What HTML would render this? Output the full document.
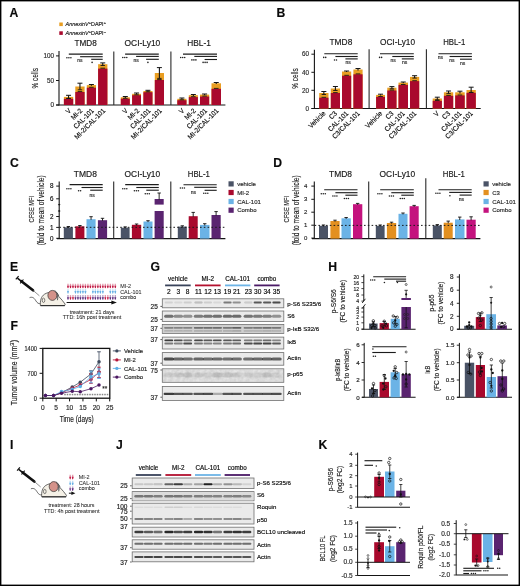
<!DOCTYPE html>
<html><head><meta charset="utf-8"><title>Figure</title>
<style>
html,body{margin:0;padding:0;background:#fff;}
body{width:520px;height:586px;overflow:hidden;}
svg text{stroke:#1a1a1a;stroke-width:0.16px;}
svg{display:block;will-change:transform;font-family:"Liberation Sans", sans-serif;}
</style></head>
<body>
<svg width="520" height="586" viewBox="0 0 520 586">
<rect x="0" y="0" width="520" height="586" fill="#fff"/>
<defs>
<filter id="bl" x="-20%" y="-50%" width="140%" height="200%"><feGaussianBlur stdDeviation="0.75 0.5"/></filter>
<filter id="bl2" x="-20%" y="-50%" width="140%" height="200%"><feGaussianBlur stdDeviation="0.8 0.6"/></filter>
<filter id="noise" x="0" y="0" width="100%" height="100%"><feTurbulence type="fractalNoise" baseFrequency="0.3" numOctaves="2" seed="7"/><feColorMatrix type="matrix" values="0 0 0 0 0.4  0 0 0 0 0.4  0 0 0 0 0.4  0 0 0 0.5 -0.02"/><feComposite in2="SourceGraphic" operator="in"/></filter>
</defs>
<text x="9.6" y="16.9" font-size="12.2" font-weight="bold" fill="#0a0a0a">A</text>
<rect x="59.3" y="22.5" width="3.5" height="3.6" fill="#e99e22"/>
<rect x="59.3" y="31.3" width="3.5" height="3.6" fill="#a9092d"/>
<text x="65.6" y="26.3" font-size="5.4" fill="#2a2a2a" font-style="italic">AnnexinV</text>
<text x="88.72" y="24.3" font-size="3.9" fill="#2a2a2a">+</text>
<text x="90.99" y="26.3" font-size="5.4" fill="#2a2a2a">DAPI</text>
<text x="103.7" y="24.3" font-size="3.9" fill="#2a2a2a">+</text>
<text x="65.6" y="35.1" font-size="5.4" fill="#2a2a2a" font-style="italic">AnnexinV</text>
<text x="88.72" y="33.1" font-size="3.9" fill="#2a2a2a">+</text>
<text x="90.99" y="35.1" font-size="5.4" fill="#2a2a2a">DAPI</text>
<text x="103.7" y="33.1" font-size="3.9" fill="#2a2a2a">–</text>
<text x="74.6" y="46" font-size="8.4" fill="#1a1a1a" textLength="22.2" lengthAdjust="spacingAndGlyphs">TMD8</text>
<text x="124.5" y="46" font-size="8.4" fill="#1a1a1a" textLength="35.8" lengthAdjust="spacingAndGlyphs">OCI-Ly10</text>
<text x="187.3" y="46" font-size="8.4" fill="#1a1a1a" textLength="23.6" lengthAdjust="spacingAndGlyphs">HBL-1</text>
<line x1="59" y1="50.9" x2="59" y2="105.5" stroke="#151515" stroke-width="1.1"/>
<line x1="56" y1="55.9" x2="59" y2="55.9" stroke="#151515" stroke-width="0.99"/>
<text x="53.9" y="58.17" font-size="6.3" text-anchor="end" fill="#333">100</text>
<line x1="56" y1="80.5" x2="59" y2="80.5" stroke="#151515" stroke-width="0.99"/>
<text x="53.9" y="82.77" font-size="6.3" text-anchor="end" fill="#333">50</text>
<line x1="56" y1="105" x2="59" y2="105" stroke="#151515" stroke-width="0.99"/>
<text x="53.9" y="107.27" font-size="6.3" text-anchor="end" fill="#333">0</text>
<line x1="56.2" y1="105" x2="225.4" y2="105" stroke="#151515" stroke-width="1.2"/>
<line x1="113.8" y1="51.5" x2="113.8" y2="105" stroke="#2a2a2a" stroke-width="1.1"/>
<line x1="170.9" y1="51.5" x2="170.9" y2="105" stroke="#2a2a2a" stroke-width="1.1"/>
<text x="38" y="78.2" font-size="9.2" text-anchor="middle" fill="#1e1e1e" textLength="20.5" lengthAdjust="spacingAndGlyphs" transform="rotate(-90 38 78.2)">% cells</text>
<rect x="63.9" y="96.9" width="9.3" height="8.1" fill="#e99e22"/>
<rect x="63.9" y="98.8" width="9.3" height="6.2" fill="#a9092d"/>
<line x1="68.55" y1="95.3" x2="68.55" y2="98.5" stroke="#151515" stroke-width="1.1"/>
<line x1="66.05" y1="95.3" x2="71.05" y2="95.3" stroke="#151515" stroke-width="1"/>
<line x1="66.35" y1="98.5" x2="70.75" y2="98.5" stroke="#151515" stroke-width="0.9"/>
<line x1="66.25" y1="98.4" x2="70.85" y2="98.4" stroke="#151515" stroke-width="0.9"/>
<rect x="75.3" y="86.5" width="9.3" height="18.5" fill="#e99e22"/>
<rect x="75.3" y="92" width="9.3" height="13" fill="#a9092d"/>
<line x1="79.95" y1="83.2" x2="79.95" y2="89.8" stroke="#151515" stroke-width="1.1"/>
<line x1="77.45" y1="83.2" x2="82.45" y2="83.2" stroke="#151515" stroke-width="1"/>
<line x1="77.75" y1="89.8" x2="82.15" y2="89.8" stroke="#151515" stroke-width="0.9"/>
<line x1="77.65" y1="91.6" x2="82.25" y2="91.6" stroke="#151515" stroke-width="0.9"/>
<rect x="86.8" y="85.1" width="9.2" height="19.9" fill="#e99e22"/>
<rect x="86.8" y="87.7" width="9.2" height="17.3" fill="#a9092d"/>
<line x1="91.4" y1="84.5" x2="91.4" y2="85.7" stroke="#151515" stroke-width="1.1"/>
<line x1="88.9" y1="84.5" x2="93.9" y2="84.5" stroke="#151515" stroke-width="1"/>
<line x1="89.1" y1="87.3" x2="93.7" y2="87.3" stroke="#151515" stroke-width="0.9"/>
<rect x="98.1" y="64.2" width="9.3" height="40.8" fill="#e99e22"/>
<rect x="98.1" y="68.6" width="9.3" height="36.4" fill="#a9092d"/>
<line x1="102.75" y1="62.9" x2="102.75" y2="65.5" stroke="#151515" stroke-width="1.1"/>
<line x1="100.25" y1="62.9" x2="105.25" y2="62.9" stroke="#151515" stroke-width="1"/>
<line x1="100.55" y1="65.5" x2="104.95" y2="65.5" stroke="#151515" stroke-width="0.9"/>
<line x1="100.45" y1="68.2" x2="105.05" y2="68.2" stroke="#151515" stroke-width="0.9"/>
<rect x="120.8" y="97.3" width="9" height="7.7" fill="#e99e22"/>
<rect x="120.8" y="98.7" width="9" height="6.3" fill="#a9092d"/>
<line x1="125.3" y1="96.5" x2="125.3" y2="98.1" stroke="#151515" stroke-width="1.1"/>
<line x1="122.8" y1="96.5" x2="127.8" y2="96.5" stroke="#151515" stroke-width="1"/>
<line x1="123" y1="98.3" x2="127.6" y2="98.3" stroke="#151515" stroke-width="0.9"/>
<rect x="132.1" y="93.8" width="8.9" height="11.2" fill="#e99e22"/>
<rect x="132.1" y="95.2" width="8.9" height="9.8" fill="#a9092d"/>
<line x1="136.55" y1="93" x2="136.55" y2="94.6" stroke="#151515" stroke-width="1.1"/>
<line x1="134.05" y1="93" x2="139.05" y2="93" stroke="#151515" stroke-width="1"/>
<line x1="134.25" y1="94.8" x2="138.85" y2="94.8" stroke="#151515" stroke-width="0.9"/>
<rect x="143.4" y="91" width="9.1" height="14" fill="#e99e22"/>
<rect x="143.4" y="92.2" width="9.1" height="12.8" fill="#a9092d"/>
<line x1="147.95" y1="90.3" x2="147.95" y2="91.7" stroke="#151515" stroke-width="1.1"/>
<line x1="145.45" y1="90.3" x2="150.45" y2="90.3" stroke="#151515" stroke-width="1"/>
<line x1="145.65" y1="91.8" x2="150.25" y2="91.8" stroke="#151515" stroke-width="0.9"/>
<rect x="154.8" y="73" width="9.2" height="32" fill="#e99e22"/>
<rect x="154.8" y="80" width="9.2" height="25" fill="#a9092d"/>
<line x1="159.4" y1="67.6" x2="159.4" y2="78.4" stroke="#151515" stroke-width="1.1"/>
<line x1="156.9" y1="67.6" x2="161.9" y2="67.6" stroke="#151515" stroke-width="1"/>
<line x1="157.2" y1="78.4" x2="161.6" y2="78.4" stroke="#151515" stroke-width="0.9"/>
<line x1="157.1" y1="79.6" x2="161.7" y2="79.6" stroke="#151515" stroke-width="0.9"/>
<rect x="177.3" y="98.8" width="9.2" height="6.2" fill="#e99e22"/>
<rect x="177.3" y="100.2" width="9.2" height="4.8" fill="#a9092d"/>
<line x1="181.9" y1="98" x2="181.9" y2="99.6" stroke="#151515" stroke-width="1.1"/>
<line x1="179.4" y1="98" x2="184.4" y2="98" stroke="#151515" stroke-width="1"/>
<line x1="179.6" y1="99.8" x2="184.2" y2="99.8" stroke="#151515" stroke-width="0.9"/>
<rect x="188.8" y="95.2" width="9.1" height="9.8" fill="#e99e22"/>
<rect x="188.8" y="97.1" width="9.1" height="7.9" fill="#a9092d"/>
<line x1="193.35" y1="94.5" x2="193.35" y2="95.9" stroke="#151515" stroke-width="1.1"/>
<line x1="190.85" y1="94.5" x2="195.85" y2="94.5" stroke="#151515" stroke-width="1"/>
<line x1="191.05" y1="96.7" x2="195.65" y2="96.7" stroke="#151515" stroke-width="0.9"/>
<rect x="200" y="94.6" width="9.2" height="10.4" fill="#e99e22"/>
<rect x="200" y="96.5" width="9.2" height="8.5" fill="#a9092d"/>
<line x1="204.6" y1="94" x2="204.6" y2="95.2" stroke="#151515" stroke-width="1.1"/>
<line x1="202.1" y1="94" x2="207.1" y2="94" stroke="#151515" stroke-width="1"/>
<line x1="202.3" y1="96.1" x2="206.9" y2="96.1" stroke="#151515" stroke-width="0.9"/>
<rect x="211.5" y="83.3" width="9.5" height="21.7" fill="#e99e22"/>
<rect x="211.5" y="88.8" width="9.5" height="16.2" fill="#a9092d"/>
<line x1="216.25" y1="82.5" x2="216.25" y2="84.1" stroke="#151515" stroke-width="1.1"/>
<line x1="213.75" y1="82.5" x2="218.75" y2="82.5" stroke="#151515" stroke-width="1"/>
<line x1="213.95" y1="88.4" x2="218.55" y2="88.4" stroke="#151515" stroke-width="0.9"/>
<line x1="68.8" y1="54.1" x2="102.7" y2="54.1" stroke="#1c1c1c" stroke-width="1.12"/>
<line x1="80.1" y1="56.7" x2="102.7" y2="56.7" stroke="#1c1c1c" stroke-width="1.12"/>
<line x1="91.2" y1="59.3" x2="102.7" y2="59.3" stroke="#1c1c1c" stroke-width="1.12"/>
<line x1="125.1" y1="54.1" x2="158.8" y2="54.1" stroke="#1c1c1c" stroke-width="1.12"/>
<line x1="136.1" y1="56.4" x2="158.8" y2="56.4" stroke="#1c1c1c" stroke-width="1.12"/>
<line x1="146.1" y1="59.3" x2="158.8" y2="59.3" stroke="#1c1c1c" stroke-width="1.12"/>
<line x1="183" y1="54.1" x2="217" y2="54.1" stroke="#1c1c1c" stroke-width="1.12"/>
<line x1="194.3" y1="56.4" x2="217" y2="56.4" stroke="#1c1c1c" stroke-width="1.12"/>
<line x1="204.6" y1="59.5" x2="217" y2="59.5" stroke="#1c1c1c" stroke-width="1.12"/>
<circle cx="66.9" cy="57.8" r="0.78" fill="#222" stroke="none" stroke-width="0.6"/>
<circle cx="68.9" cy="57.8" r="0.78" fill="#222" stroke="none" stroke-width="0.6"/>
<circle cx="70.9" cy="57.8" r="0.78" fill="#222" stroke="none" stroke-width="0.6"/>
<text x="77.2" y="62.2" font-size="5" fill="#333">ns</text>
<circle cx="92.1" cy="62.4" r="0.78" fill="#222" stroke="none" stroke-width="0.6"/>
<circle cx="122.8" cy="57.5" r="0.78" fill="#222" stroke="none" stroke-width="0.6"/>
<circle cx="124.8" cy="57.5" r="0.78" fill="#222" stroke="none" stroke-width="0.6"/>
<circle cx="126.8" cy="57.5" r="0.78" fill="#222" stroke="none" stroke-width="0.6"/>
<text x="133.5" y="61.8" font-size="5" fill="#333">ns</text>
<circle cx="147.9" cy="62.4" r="0.78" fill="#222" stroke="none" stroke-width="0.6"/>
<circle cx="180.7" cy="57.5" r="0.78" fill="#222" stroke="none" stroke-width="0.6"/>
<circle cx="182.7" cy="57.5" r="0.78" fill="#222" stroke="none" stroke-width="0.6"/>
<circle cx="184.7" cy="57.5" r="0.78" fill="#222" stroke="none" stroke-width="0.6"/>
<circle cx="191.9" cy="59.9" r="0.78" fill="#222" stroke="none" stroke-width="0.6"/>
<circle cx="193.9" cy="59.9" r="0.78" fill="#222" stroke="none" stroke-width="0.6"/>
<circle cx="195.9" cy="59.9" r="0.78" fill="#222" stroke="none" stroke-width="0.6"/>
<circle cx="203.1" cy="62.4" r="0.78" fill="#222" stroke="none" stroke-width="0.6"/>
<circle cx="205.1" cy="62.4" r="0.78" fill="#222" stroke="none" stroke-width="0.6"/>
<circle cx="207.1" cy="62.4" r="0.78" fill="#222" stroke="none" stroke-width="0.6"/>
<text x="71.5" y="111.2" font-size="7" text-anchor="end" textLength="4.32" lengthAdjust="spacingAndGlyphs" transform="rotate(-45 71.5 111.2)">V</text>
<text x="82.9" y="111.2" font-size="7" text-anchor="end" textLength="12.96" lengthAdjust="spacingAndGlyphs" transform="rotate(-45 82.9 111.2)">MI-2</text>
<text x="94.4" y="111.2" font-size="7" text-anchor="end" textLength="25.57" lengthAdjust="spacingAndGlyphs" transform="rotate(-45 94.4 111.2)">CAL-101</text>
<text x="105.7" y="111.2" font-size="7" text-anchor="end" textLength="40.33" lengthAdjust="spacingAndGlyphs" transform="rotate(-45 105.7 111.2)">MI-2/CAL-101</text>
<text x="128.4" y="111.2" font-size="7" text-anchor="end" textLength="4.32" lengthAdjust="spacingAndGlyphs" transform="rotate(-45 128.4 111.2)">V</text>
<text x="139.7" y="111.2" font-size="7" text-anchor="end" textLength="12.96" lengthAdjust="spacingAndGlyphs" transform="rotate(-45 139.7 111.2)">MI-2</text>
<text x="151" y="111.2" font-size="7" text-anchor="end" textLength="25.57" lengthAdjust="spacingAndGlyphs" transform="rotate(-45 151 111.2)">CAL-101</text>
<text x="162.4" y="111.2" font-size="7" text-anchor="end" textLength="40.33" lengthAdjust="spacingAndGlyphs" transform="rotate(-45 162.4 111.2)">MI-2/CAL-101</text>
<text x="184.9" y="111.2" font-size="7" text-anchor="end" textLength="4.32" lengthAdjust="spacingAndGlyphs" transform="rotate(-45 184.9 111.2)">V</text>
<text x="196.4" y="111.2" font-size="7" text-anchor="end" textLength="12.96" lengthAdjust="spacingAndGlyphs" transform="rotate(-45 196.4 111.2)">MI-2</text>
<text x="207.6" y="111.2" font-size="7" text-anchor="end" textLength="25.57" lengthAdjust="spacingAndGlyphs" transform="rotate(-45 207.6 111.2)">CAL-101</text>
<text x="219.1" y="111.2" font-size="7" text-anchor="end" textLength="40.33" lengthAdjust="spacingAndGlyphs" transform="rotate(-45 219.1 111.2)">MI-2/CAL-101</text>
<text x="276.4" y="16.9" font-size="12.2" font-weight="bold" fill="#0a0a0a">B</text>
<text x="329.5" y="44.5" font-size="8.4" fill="#1a1a1a" textLength="22.8" lengthAdjust="spacingAndGlyphs">TMD8</text>
<text x="380" y="44.5" font-size="8.4" fill="#1a1a1a" textLength="35" lengthAdjust="spacingAndGlyphs">OCI-Ly10</text>
<text x="443.2" y="44.5" font-size="8.4" fill="#1a1a1a" textLength="22.1" lengthAdjust="spacingAndGlyphs">HBL-1</text>
<line x1="314.4" y1="49.7" x2="314.4" y2="108.5" stroke="#151515" stroke-width="1.1"/>
<line x1="311.4" y1="54.2" x2="314.4" y2="54.2" stroke="#151515" stroke-width="0.99"/>
<text x="309" y="56.47" font-size="6.3" text-anchor="end" fill="#333">60</text>
<line x1="311.4" y1="72.3" x2="314.4" y2="72.3" stroke="#151515" stroke-width="0.99"/>
<text x="309" y="74.57" font-size="6.3" text-anchor="end" fill="#333">40</text>
<line x1="311.4" y1="90.3" x2="314.4" y2="90.3" stroke="#151515" stroke-width="0.99"/>
<text x="309" y="92.57" font-size="6.3" text-anchor="end" fill="#333">20</text>
<line x1="311.4" y1="108.5" x2="314.4" y2="108.5" stroke="#151515" stroke-width="0.99"/>
<text x="309" y="110.77" font-size="6.3" text-anchor="end" fill="#333">0</text>
<line x1="311.5" y1="108.5" x2="480.7" y2="108.5" stroke="#151515" stroke-width="1.2"/>
<line x1="369.1" y1="49.2" x2="369.1" y2="108.5" stroke="#2a2a2a" stroke-width="1.1"/>
<line x1="426.4" y1="49.2" x2="426.4" y2="108.5" stroke="#2a2a2a" stroke-width="1.1"/>
<text x="297.6" y="78.5" font-size="9.2" text-anchor="middle" fill="#1e1e1e" textLength="20.5" lengthAdjust="spacingAndGlyphs" transform="rotate(-90 297.6 78.5)">% cells</text>
<rect x="319.2" y="93" width="9.3" height="15.5" fill="#e99e22"/>
<rect x="319.2" y="97.7" width="9.3" height="10.8" fill="#a9092d"/>
<line x1="323.85" y1="91.5" x2="323.85" y2="94.5" stroke="#151515" stroke-width="1.1"/>
<line x1="321.35" y1="91.5" x2="326.35" y2="91.5" stroke="#151515" stroke-width="1"/>
<line x1="321.65" y1="94.5" x2="326.05" y2="94.5" stroke="#151515" stroke-width="0.9"/>
<line x1="321.55" y1="97.3" x2="326.15" y2="97.3" stroke="#151515" stroke-width="0.9"/>
<rect x="330.8" y="88.5" width="9.2" height="20" fill="#e99e22"/>
<rect x="330.8" y="93" width="9.2" height="15.5" fill="#a9092d"/>
<line x1="335.4" y1="86.5" x2="335.4" y2="90.5" stroke="#151515" stroke-width="1.1"/>
<line x1="332.9" y1="86.5" x2="337.9" y2="86.5" stroke="#151515" stroke-width="1"/>
<line x1="333.2" y1="90.5" x2="337.6" y2="90.5" stroke="#151515" stroke-width="0.9"/>
<line x1="333.1" y1="92.6" x2="337.7" y2="92.6" stroke="#151515" stroke-width="0.9"/>
<rect x="342" y="71.5" width="9.2" height="37" fill="#e99e22"/>
<rect x="342" y="75.7" width="9.2" height="32.8" fill="#a9092d"/>
<line x1="346.6" y1="71" x2="346.6" y2="72" stroke="#151515" stroke-width="1.1"/>
<line x1="344.1" y1="71" x2="349.1" y2="71" stroke="#151515" stroke-width="1"/>
<line x1="344.3" y1="75.3" x2="348.9" y2="75.3" stroke="#151515" stroke-width="0.9"/>
<rect x="353.4" y="69.5" width="9.2" height="39" fill="#e99e22"/>
<rect x="353.4" y="74.3" width="9.2" height="34.2" fill="#a9092d"/>
<line x1="358" y1="68.5" x2="358" y2="70.5" stroke="#151515" stroke-width="1.1"/>
<line x1="355.5" y1="68.5" x2="360.5" y2="68.5" stroke="#151515" stroke-width="1"/>
<line x1="355.7" y1="73.9" x2="360.3" y2="73.9" stroke="#151515" stroke-width="0.9"/>
<rect x="376.1" y="94.9" width="8.9" height="13.6" fill="#e99e22"/>
<rect x="376.1" y="96.9" width="8.9" height="11.6" fill="#a9092d"/>
<line x1="380.55" y1="94.2" x2="380.55" y2="95.6" stroke="#151515" stroke-width="1.1"/>
<line x1="378.05" y1="94.2" x2="383.05" y2="94.2" stroke="#151515" stroke-width="1"/>
<line x1="378.25" y1="96.5" x2="382.85" y2="96.5" stroke="#151515" stroke-width="0.9"/>
<rect x="387.3" y="87.7" width="9.2" height="20.8" fill="#e99e22"/>
<rect x="387.3" y="90.5" width="9.2" height="18" fill="#a9092d"/>
<line x1="391.9" y1="86.6" x2="391.9" y2="88.8" stroke="#151515" stroke-width="1.1"/>
<line x1="389.4" y1="86.6" x2="394.4" y2="86.6" stroke="#151515" stroke-width="1"/>
<line x1="389.7" y1="88.8" x2="394.1" y2="88.8" stroke="#151515" stroke-width="0.9"/>
<line x1="389.6" y1="90.1" x2="394.2" y2="90.1" stroke="#151515" stroke-width="0.9"/>
<rect x="398.5" y="82.6" width="9.5" height="25.9" fill="#e99e22"/>
<rect x="398.5" y="84.9" width="9.5" height="23.6" fill="#a9092d"/>
<line x1="403.25" y1="82" x2="403.25" y2="83.2" stroke="#151515" stroke-width="1.1"/>
<line x1="400.75" y1="82" x2="405.75" y2="82" stroke="#151515" stroke-width="1"/>
<line x1="400.95" y1="84.5" x2="405.55" y2="84.5" stroke="#151515" stroke-width="0.9"/>
<rect x="410" y="76.9" width="9.2" height="31.6" fill="#e99e22"/>
<rect x="410" y="81.1" width="9.2" height="27.4" fill="#a9092d"/>
<line x1="414.6" y1="75.7" x2="414.6" y2="78.1" stroke="#151515" stroke-width="1.1"/>
<line x1="412.1" y1="75.7" x2="417.1" y2="75.7" stroke="#151515" stroke-width="1"/>
<line x1="412.4" y1="78.1" x2="416.8" y2="78.1" stroke="#151515" stroke-width="0.9"/>
<line x1="412.3" y1="80.7" x2="416.9" y2="80.7" stroke="#151515" stroke-width="0.9"/>
<rect x="432.7" y="98.5" width="9.2" height="10" fill="#e99e22"/>
<rect x="432.7" y="100.8" width="9.2" height="7.7" fill="#a9092d"/>
<line x1="437.3" y1="97.2" x2="437.3" y2="99.8" stroke="#151515" stroke-width="1.1"/>
<line x1="434.8" y1="97.2" x2="439.8" y2="97.2" stroke="#151515" stroke-width="1"/>
<line x1="435.1" y1="99.8" x2="439.5" y2="99.8" stroke="#151515" stroke-width="0.9"/>
<line x1="435" y1="100.4" x2="439.6" y2="100.4" stroke="#151515" stroke-width="0.9"/>
<rect x="443.9" y="92.3" width="9.3" height="16.2" fill="#e99e22"/>
<rect x="443.9" y="95.8" width="9.3" height="12.7" fill="#a9092d"/>
<line x1="448.55" y1="91" x2="448.55" y2="93.6" stroke="#151515" stroke-width="1.1"/>
<line x1="446.05" y1="91" x2="451.05" y2="91" stroke="#151515" stroke-width="1"/>
<line x1="446.35" y1="93.6" x2="450.75" y2="93.6" stroke="#151515" stroke-width="0.9"/>
<line x1="446.25" y1="95.4" x2="450.85" y2="95.4" stroke="#151515" stroke-width="0.9"/>
<rect x="455.2" y="92.3" width="9.5" height="16.2" fill="#e99e22"/>
<rect x="455.2" y="95.4" width="9.5" height="13.1" fill="#a9092d"/>
<line x1="459.95" y1="91.2" x2="459.95" y2="93.4" stroke="#151515" stroke-width="1.1"/>
<line x1="457.45" y1="91.2" x2="462.45" y2="91.2" stroke="#151515" stroke-width="1"/>
<line x1="457.65" y1="95" x2="462.25" y2="95" stroke="#151515" stroke-width="0.9"/>
<rect x="466.5" y="90" width="9.3" height="18.5" fill="#e99e22"/>
<rect x="466.5" y="92.8" width="9.3" height="15.7" fill="#a9092d"/>
<line x1="471.15" y1="87.2" x2="471.15" y2="92.5" stroke="#151515" stroke-width="1.1"/>
<line x1="468.65" y1="87.2" x2="473.65" y2="87.2" stroke="#151515" stroke-width="1"/>
<line x1="468.95" y1="92.5" x2="473.35" y2="92.5" stroke="#151515" stroke-width="0.9"/>
<line x1="468.85" y1="92.4" x2="473.45" y2="92.4" stroke="#151515" stroke-width="0.9"/>
<line x1="324.3" y1="53.8" x2="357.7" y2="53.8" stroke="#1c1c1c" stroke-width="1.12"/>
<line x1="335.4" y1="56.5" x2="357.7" y2="56.5" stroke="#1c1c1c" stroke-width="1.12"/>
<line x1="345.4" y1="58.9" x2="357.7" y2="58.9" stroke="#1c1c1c" stroke-width="1.12"/>
<line x1="380" y1="53.8" x2="413.8" y2="53.8" stroke="#1c1c1c" stroke-width="1.12"/>
<line x1="392.3" y1="56.5" x2="413.8" y2="56.5" stroke="#1c1c1c" stroke-width="1.12"/>
<line x1="401.8" y1="58.9" x2="413.8" y2="58.9" stroke="#1c1c1c" stroke-width="1.12"/>
<line x1="438.5" y1="53.8" x2="471.9" y2="53.8" stroke="#1c1c1c" stroke-width="1.12"/>
<line x1="449.6" y1="56.5" x2="471.9" y2="56.5" stroke="#1c1c1c" stroke-width="1.12"/>
<line x1="460" y1="59.2" x2="471.9" y2="59.2" stroke="#1c1c1c" stroke-width="1.12"/>
<circle cx="323.7" cy="57.4" r="0.78" fill="#222" stroke="none" stroke-width="0.6"/>
<circle cx="325.7" cy="57.4" r="0.78" fill="#222" stroke="none" stroke-width="0.6"/>
<circle cx="334.5" cy="60" r="0.78" fill="#222" stroke="none" stroke-width="0.6"/>
<circle cx="336.5" cy="60" r="0.78" fill="#222" stroke="none" stroke-width="0.6"/>
<text x="345.6" y="64.3" font-size="5" fill="#333">ns</text>
<circle cx="379.6" cy="57.4" r="0.78" fill="#222" stroke="none" stroke-width="0.6"/>
<circle cx="381.6" cy="57.4" r="0.78" fill="#222" stroke="none" stroke-width="0.6"/>
<text x="390.4" y="61.7" font-size="5" fill="#333">ns</text>
<text x="402" y="64.3" font-size="5" fill="#333">ns</text>
<text x="437.8" y="59.2" font-size="5" fill="#333">ns</text>
<text x="449.2" y="61.7" font-size="5" fill="#333">ns</text>
<text x="460" y="64.5" font-size="5" fill="#333">ns</text>
<text x="326" y="114" font-size="7" text-anchor="end" textLength="20.89" lengthAdjust="spacingAndGlyphs" transform="rotate(-45 326 114)">Vehicle</text>
<text x="337.6" y="114" font-size="7" text-anchor="end" textLength="8.28" lengthAdjust="spacingAndGlyphs" transform="rotate(-45 337.6 114)">C3</text>
<text x="348.8" y="114" font-size="7" text-anchor="end" textLength="25.57" lengthAdjust="spacingAndGlyphs" transform="rotate(-45 348.8 114)">CAL-101</text>
<text x="360.2" y="114" font-size="7" text-anchor="end" textLength="35.66" lengthAdjust="spacingAndGlyphs" transform="rotate(-45 360.2 114)">C3/CAL-101</text>
<text x="382.9" y="114" font-size="7" text-anchor="end" textLength="20.89" lengthAdjust="spacingAndGlyphs" transform="rotate(-45 382.9 114)">Vehicle</text>
<text x="394.1" y="114" font-size="7" text-anchor="end" textLength="8.28" lengthAdjust="spacingAndGlyphs" transform="rotate(-45 394.1 114)">C3</text>
<text x="405.3" y="114" font-size="7" text-anchor="end" textLength="25.57" lengthAdjust="spacingAndGlyphs" transform="rotate(-45 405.3 114)">CAL-101</text>
<text x="416.8" y="114" font-size="7" text-anchor="end" textLength="35.66" lengthAdjust="spacingAndGlyphs" transform="rotate(-45 416.8 114)">C3/CAL-101</text>
<text x="439.5" y="114" font-size="7" text-anchor="end" textLength="4.32" lengthAdjust="spacingAndGlyphs" transform="rotate(-45 439.5 114)">V</text>
<text x="450.7" y="114" font-size="7" text-anchor="end" textLength="8.28" lengthAdjust="spacingAndGlyphs" transform="rotate(-45 450.7 114)">C3</text>
<text x="462" y="114" font-size="7" text-anchor="end" textLength="25.57" lengthAdjust="spacingAndGlyphs" transform="rotate(-45 462 114)">CAL-101</text>
<text x="473.3" y="114" font-size="7" text-anchor="end" textLength="35.66" lengthAdjust="spacingAndGlyphs" transform="rotate(-45 473.3 114)">C3/CAL-101</text>
<text x="9.9" y="166.7" font-size="12.2" font-weight="bold" fill="#0a0a0a">C</text>
<text x="73.8" y="176.9" font-size="8.4" fill="#1a1a1a" textLength="23.1" lengthAdjust="spacingAndGlyphs">TMD8</text>
<text x="124.6" y="176.9" font-size="8.4" fill="#1a1a1a" textLength="35.6" lengthAdjust="spacingAndGlyphs">OCI-Ly10</text>
<text x="187.8" y="176.9" font-size="8.4" fill="#1a1a1a" textLength="22" lengthAdjust="spacingAndGlyphs">HBL-1</text>
<line x1="59.2" y1="181.5" x2="59.2" y2="238.8" stroke="#151515" stroke-width="1.1"/>
<line x1="56.2" y1="186.1" x2="59.2" y2="186.1" stroke="#151515" stroke-width="0.99"/>
<line x1="56.2" y1="198.8" x2="59.2" y2="198.8" stroke="#151515" stroke-width="0.99"/>
<line x1="56.2" y1="216.5" x2="59.2" y2="216.5" stroke="#151515" stroke-width="0.99"/>
<line x1="56.2" y1="227.4" x2="59.2" y2="227.4" stroke="#151515" stroke-width="0.99"/>
<line x1="56.2" y1="238.3" x2="59.2" y2="238.3" stroke="#151515" stroke-width="0.99"/>
<text x="53.4" y="188.3" font-size="6.3" text-anchor="end">8</text>
<text x="53.4" y="201" font-size="6.3" text-anchor="end">6</text>
<text x="53.4" y="218.7" font-size="6.3" text-anchor="end">2</text>
<text x="53.4" y="229.6" font-size="6.3" text-anchor="end">1</text>
<text x="53.4" y="240.5" font-size="6.3" text-anchor="end">0</text>
<path d="M57.8 204.7 L59.2 203.8 L60.6 204.7 L59.2 205.6 Z" stroke="none" fill="#151515" stroke-width="1"/>
<path d="M57.8 211 L59.2 210.1 L60.6 211 L59.2 211.9 Z" stroke="none" fill="#151515" stroke-width="1"/>
<line x1="57" y1="238.6" x2="225.4" y2="238.6" stroke="#151515" stroke-width="1.2"/>
<line x1="113.7" y1="181.5" x2="113.7" y2="238.6" stroke="#2a2a2a" stroke-width="1.1"/>
<line x1="170.8" y1="181.5" x2="170.8" y2="238.6" stroke="#2a2a2a" stroke-width="1.1"/>
<text x="33.6" y="209.2" font-size="7.4" text-anchor="middle" fill="#1e1e1e" textLength="26.5" lengthAdjust="spacingAndGlyphs" transform="rotate(-90 33.6 209.2)">CFSE MFI</text>
<text x="43.6" y="210.3" font-size="8.3" text-anchor="middle" fill="#1e1e1e" textLength="70" lengthAdjust="spacingAndGlyphs" transform="rotate(-90 43.6 210.3)">(fold to mean of vehicle)</text>
<rect x="63.8" y="227.3" width="9.1" height="11.3" fill="#4a5366"/>
<line x1="68.35" y1="227.9" x2="68.35" y2="226.5" stroke="#111" stroke-width="0.9"/>
<line x1="66.65" y1="226.5" x2="70.05" y2="226.5" stroke="#111" stroke-width="0.9"/>
<rect x="75.4" y="226.3" width="9" height="12.3" fill="#a9092d"/>
<line x1="79.9" y1="226.9" x2="79.9" y2="225.5" stroke="#111" stroke-width="0.9"/>
<line x1="78.2" y1="225.5" x2="81.6" y2="225.5" stroke="#111" stroke-width="0.9"/>
<rect x="86.5" y="219.2" width="9.1" height="19.4" fill="#6bb3e6"/>
<line x1="91.05" y1="219.8" x2="91.05" y2="216.7" stroke="#111" stroke-width="0.9"/>
<line x1="89.35" y1="216.7" x2="92.75" y2="216.7" stroke="#111" stroke-width="0.9"/>
<rect x="97.9" y="220.2" width="9.2" height="18.4" fill="#5a2470"/>
<line x1="102.5" y1="220.8" x2="102.5" y2="218.3" stroke="#111" stroke-width="0.9"/>
<line x1="100.8" y1="218.3" x2="104.2" y2="218.3" stroke="#111" stroke-width="0.9"/>
<rect x="120.8" y="227.7" width="8.8" height="10.9" fill="#4a5366"/>
<line x1="125.2" y1="228.3" x2="125.2" y2="226.9" stroke="#111" stroke-width="0.9"/>
<line x1="123.5" y1="226.9" x2="126.9" y2="226.9" stroke="#111" stroke-width="0.9"/>
<rect x="131.9" y="224.8" width="9.3" height="13.8" fill="#a9092d"/>
<line x1="136.55" y1="225.4" x2="136.55" y2="224" stroke="#111" stroke-width="0.9"/>
<line x1="134.85" y1="224" x2="138.25" y2="224" stroke="#111" stroke-width="0.9"/>
<rect x="143.5" y="221.5" width="9" height="17.1" fill="#6bb3e6"/>
<line x1="148" y1="222.1" x2="148" y2="220.7" stroke="#111" stroke-width="0.9"/>
<line x1="146.3" y1="220.7" x2="149.7" y2="220.7" stroke="#111" stroke-width="0.9"/>
<rect x="177.8" y="226.6" width="9" height="12" fill="#4a5366"/>
<line x1="182.3" y1="227.2" x2="182.3" y2="225.8" stroke="#111" stroke-width="0.9"/>
<line x1="180.6" y1="225.8" x2="184" y2="225.8" stroke="#111" stroke-width="0.9"/>
<rect x="188.7" y="216.2" width="9" height="22.4" fill="#a9092d"/>
<line x1="193.2" y1="216.8" x2="193.2" y2="212.4" stroke="#111" stroke-width="0.9"/>
<line x1="191.5" y1="212.4" x2="194.9" y2="212.4" stroke="#111" stroke-width="0.9"/>
<rect x="200" y="224.9" width="9.5" height="13.7" fill="#6bb3e6"/>
<line x1="204.75" y1="225.5" x2="204.75" y2="223.7" stroke="#111" stroke-width="0.9"/>
<line x1="203.05" y1="223.7" x2="206.45" y2="223.7" stroke="#111" stroke-width="0.9"/>
<rect x="211.5" y="215" width="9.2" height="23.6" fill="#5a2470"/>
<line x1="216.1" y1="215.6" x2="216.1" y2="211.6" stroke="#111" stroke-width="0.9"/>
<line x1="214.4" y1="211.6" x2="217.8" y2="211.6" stroke="#111" stroke-width="0.9"/>
<rect x="154.6" y="211" width="9.1" height="27.6" fill="#5a2470"/>
<rect x="154.6" y="199" width="9.1" height="5.6" fill="#5a2470"/>
<line x1="159.15" y1="199.5" x2="159.15" y2="193" stroke="#111" stroke-width="0.9"/>
<line x1="157.45" y1="193" x2="160.85" y2="193" stroke="#111" stroke-width="0.9"/>
<line x1="59.4" y1="227.3" x2="226.2" y2="227.3" stroke="#1a1a1a" stroke-width="1" stroke-dasharray="1.6 2.2"/>
<line x1="69.6" y1="184.6" x2="102.7" y2="184.6" stroke="#1c1c1c" stroke-width="1.12"/>
<line x1="81.5" y1="187.5" x2="102.7" y2="187.5" stroke="#1c1c1c" stroke-width="1.12"/>
<line x1="90.2" y1="190.2" x2="102.7" y2="190.2" stroke="#1c1c1c" stroke-width="1.12"/>
<line x1="125.2" y1="184.6" x2="158.8" y2="184.6" stroke="#1c1c1c" stroke-width="1.12"/>
<line x1="136.3" y1="187.5" x2="158.8" y2="187.5" stroke="#1c1c1c" stroke-width="1.12"/>
<line x1="146.3" y1="190.2" x2="158.8" y2="190.2" stroke="#1c1c1c" stroke-width="1.12"/>
<line x1="183.5" y1="184.7" x2="216.7" y2="184.7" stroke="#1c1c1c" stroke-width="1.12"/>
<line x1="194.2" y1="187.3" x2="216.7" y2="187.3" stroke="#1c1c1c" stroke-width="1.12"/>
<line x1="204.6" y1="190.3" x2="216.7" y2="190.3" stroke="#1c1c1c" stroke-width="1.12"/>
<circle cx="66.9" cy="188.8" r="0.78" fill="#222" stroke="none" stroke-width="0.6"/>
<circle cx="68.9" cy="188.8" r="0.78" fill="#222" stroke="none" stroke-width="0.6"/>
<circle cx="70.9" cy="188.8" r="0.78" fill="#222" stroke="none" stroke-width="0.6"/>
<circle cx="78.6" cy="190.8" r="0.78" fill="#222" stroke="none" stroke-width="0.6"/>
<circle cx="80.6" cy="190.8" r="0.78" fill="#222" stroke="none" stroke-width="0.6"/>
<text x="89.4" y="196.7" font-size="5" fill="#333">ns</text>
<circle cx="122.8" cy="188.8" r="0.78" fill="#222" stroke="none" stroke-width="0.6"/>
<circle cx="124.8" cy="188.8" r="0.78" fill="#222" stroke="none" stroke-width="0.6"/>
<circle cx="126.8" cy="188.8" r="0.78" fill="#222" stroke="none" stroke-width="0.6"/>
<circle cx="134.4" cy="190.8" r="0.78" fill="#222" stroke="none" stroke-width="0.6"/>
<circle cx="136.4" cy="190.8" r="0.78" fill="#222" stroke="none" stroke-width="0.6"/>
<circle cx="138.4" cy="190.8" r="0.78" fill="#222" stroke="none" stroke-width="0.6"/>
<circle cx="145.3" cy="193.7" r="0.78" fill="#222" stroke="none" stroke-width="0.6"/>
<circle cx="147.3" cy="193.7" r="0.78" fill="#222" stroke="none" stroke-width="0.6"/>
<circle cx="149.3" cy="193.7" r="0.78" fill="#222" stroke="none" stroke-width="0.6"/>
<circle cx="180.4" cy="188" r="0.78" fill="#222" stroke="none" stroke-width="0.6"/>
<circle cx="182.4" cy="188" r="0.78" fill="#222" stroke="none" stroke-width="0.6"/>
<circle cx="184.4" cy="188" r="0.78" fill="#222" stroke="none" stroke-width="0.6"/>
<text x="190.8" y="194.1" font-size="5" fill="#333">ns</text>
<circle cx="203.8" cy="193.2" r="0.78" fill="#222" stroke="none" stroke-width="0.6"/>
<circle cx="205.8" cy="193.2" r="0.78" fill="#222" stroke="none" stroke-width="0.6"/>
<circle cx="207.8" cy="193.2" r="0.78" fill="#222" stroke="none" stroke-width="0.6"/>
<rect x="228.5" y="181.3" width="5.2" height="5.2" fill="#4a5366"/>
<text x="237.2" y="186" font-size="6" fill="#333">vehicle</text>
<rect x="228.5" y="189.9" width="5.2" height="5.2" fill="#a9092d"/>
<text x="237.2" y="194.6" font-size="6" fill="#333">MI-2</text>
<rect x="228.5" y="198.9" width="5.2" height="5.2" fill="#6bb3e6"/>
<text x="237.2" y="203.6" font-size="6" fill="#333">CAL-101</text>
<rect x="228.5" y="207.6" width="5.2" height="5.2" fill="#5a2470"/>
<text x="237.2" y="212.3" font-size="6" fill="#333">Combo</text>
<text x="273.2" y="166.7" font-size="12.2" font-weight="bold" fill="#0a0a0a">D</text>
<text x="329" y="176.9" font-size="8.4" fill="#1a1a1a" textLength="23" lengthAdjust="spacingAndGlyphs">TMD8</text>
<text x="379.6" y="176.9" font-size="8.4" fill="#1a1a1a" textLength="35.6" lengthAdjust="spacingAndGlyphs">OCI-Ly10</text>
<text x="442.8" y="176.9" font-size="8.4" fill="#1a1a1a" textLength="22" lengthAdjust="spacingAndGlyphs">HBL-1</text>
<line x1="314.3" y1="181.5" x2="314.3" y2="238.8" stroke="#151515" stroke-width="1.1"/>
<line x1="311.3" y1="186.1" x2="314.3" y2="186.1" stroke="#151515" stroke-width="0.99"/>
<text x="305.7" y="188.26" font-size="6" text-anchor="middle" fill="#333">4</text>
<line x1="311.3" y1="199.3" x2="314.3" y2="199.3" stroke="#151515" stroke-width="0.99"/>
<text x="305.7" y="201.46" font-size="6" text-anchor="middle" fill="#333">3</text>
<line x1="311.3" y1="212.2" x2="314.3" y2="212.2" stroke="#151515" stroke-width="0.99"/>
<text x="305.7" y="214.36" font-size="6" text-anchor="middle" fill="#333">2</text>
<line x1="311.3" y1="225.2" x2="314.3" y2="225.2" stroke="#151515" stroke-width="0.99"/>
<text x="305.7" y="227.36" font-size="6" text-anchor="middle" fill="#333">1</text>
<line x1="311.3" y1="238.1" x2="314.3" y2="238.1" stroke="#151515" stroke-width="0.99"/>
<text x="305.7" y="240.26" font-size="6" text-anchor="middle" fill="#333">0</text>
<line x1="312" y1="238.6" x2="480.4" y2="238.6" stroke="#151515" stroke-width="1.2"/>
<line x1="368.7" y1="181.5" x2="368.7" y2="238.6" stroke="#2a2a2a" stroke-width="1.1"/>
<line x1="425.8" y1="178.3" x2="425.8" y2="238.6" stroke="#2a2a2a" stroke-width="1.1"/>
<text x="288.8" y="209.2" font-size="7.4" text-anchor="middle" fill="#1e1e1e" textLength="26.5" lengthAdjust="spacingAndGlyphs" transform="rotate(-90 288.8 209.2)">CFSE MFI</text>
<text x="298.8" y="210.3" font-size="8.3" text-anchor="middle" fill="#1e1e1e" textLength="70" lengthAdjust="spacingAndGlyphs" transform="rotate(-90 298.8 210.3)">(fold to mean of vehicle)</text>
<rect x="319" y="225.8" width="9" height="12.8" fill="#4a5366"/>
<line x1="323.5" y1="226.4" x2="323.5" y2="225" stroke="#111" stroke-width="0.9"/>
<line x1="321.8" y1="225" x2="325.2" y2="225" stroke="#111" stroke-width="0.9"/>
<rect x="330.4" y="221" width="9.2" height="17.6" fill="#e39020"/>
<line x1="335" y1="221.6" x2="335" y2="220.2" stroke="#111" stroke-width="0.9"/>
<line x1="333.3" y1="220.2" x2="336.7" y2="220.2" stroke="#111" stroke-width="0.9"/>
<rect x="341.5" y="218.3" width="9.3" height="20.3" fill="#6bb3e6"/>
<line x1="346.15" y1="218.9" x2="346.15" y2="217.5" stroke="#111" stroke-width="0.9"/>
<line x1="344.45" y1="217.5" x2="347.85" y2="217.5" stroke="#111" stroke-width="0.9"/>
<rect x="353" y="204.2" width="9.3" height="34.4" fill="#c4137e"/>
<line x1="357.65" y1="204.8" x2="357.65" y2="203.4" stroke="#111" stroke-width="0.9"/>
<line x1="355.95" y1="203.4" x2="359.35" y2="203.4" stroke="#111" stroke-width="0.9"/>
<rect x="375.8" y="225.8" width="8.8" height="12.8" fill="#4a5366"/>
<line x1="380.2" y1="226.4" x2="380.2" y2="225" stroke="#111" stroke-width="0.9"/>
<line x1="378.5" y1="225" x2="381.9" y2="225" stroke="#111" stroke-width="0.9"/>
<rect x="386.9" y="223" width="9.3" height="15.6" fill="#e39020"/>
<line x1="391.55" y1="223.6" x2="391.55" y2="222.2" stroke="#111" stroke-width="0.9"/>
<line x1="389.85" y1="222.2" x2="393.25" y2="222.2" stroke="#111" stroke-width="0.9"/>
<rect x="398.5" y="213.8" width="9" height="24.8" fill="#6bb3e6"/>
<line x1="403" y1="214.4" x2="403" y2="213" stroke="#111" stroke-width="0.9"/>
<line x1="401.3" y1="213" x2="404.7" y2="213" stroke="#111" stroke-width="0.9"/>
<rect x="409.6" y="206.2" width="9.1" height="32.4" fill="#c4137e"/>
<line x1="414.15" y1="206.8" x2="414.15" y2="205.4" stroke="#111" stroke-width="0.9"/>
<line x1="412.45" y1="205.4" x2="415.85" y2="205.4" stroke="#111" stroke-width="0.9"/>
<rect x="432.8" y="225.4" width="9" height="13.2" fill="#4a5366"/>
<line x1="437.3" y1="226" x2="437.3" y2="224.6" stroke="#111" stroke-width="0.9"/>
<line x1="435.6" y1="224.6" x2="439" y2="224.6" stroke="#111" stroke-width="0.9"/>
<rect x="443.7" y="222.7" width="9" height="15.9" fill="#e39020"/>
<line x1="448.2" y1="223.3" x2="448.2" y2="221.1" stroke="#111" stroke-width="0.9"/>
<line x1="446.5" y1="221.1" x2="449.9" y2="221.1" stroke="#111" stroke-width="0.9"/>
<rect x="455" y="219.4" width="9.5" height="19.2" fill="#6bb3e6"/>
<line x1="459.75" y1="220" x2="459.75" y2="217.1" stroke="#111" stroke-width="0.9"/>
<line x1="458.05" y1="217.1" x2="461.45" y2="217.1" stroke="#111" stroke-width="0.9"/>
<rect x="466.5" y="219.7" width="9.2" height="18.9" fill="#c4137e"/>
<line x1="471.1" y1="220.3" x2="471.1" y2="216.8" stroke="#111" stroke-width="0.9"/>
<line x1="469.4" y1="216.8" x2="472.8" y2="216.8" stroke="#111" stroke-width="0.9"/>
<line x1="314.6" y1="225.4" x2="481.2" y2="225.4" stroke="#1a1a1a" stroke-width="1" stroke-dasharray="1.6 2.2"/>
<line x1="324.2" y1="189.8" x2="357.5" y2="189.8" stroke="#1c1c1c" stroke-width="1.12"/>
<line x1="335.4" y1="192.7" x2="357.5" y2="192.7" stroke="#1c1c1c" stroke-width="1.12"/>
<line x1="345.4" y1="195.2" x2="357.5" y2="195.2" stroke="#1c1c1c" stroke-width="1.12"/>
<line x1="380.2" y1="189.8" x2="413.8" y2="189.8" stroke="#1c1c1c" stroke-width="1.12"/>
<line x1="391.3" y1="192.7" x2="413.8" y2="192.7" stroke="#1c1c1c" stroke-width="1.12"/>
<line x1="401.3" y1="195.2" x2="413.8" y2="195.2" stroke="#1c1c1c" stroke-width="1.12"/>
<line x1="438.5" y1="189.8" x2="471.7" y2="189.8" stroke="#1c1c1c" stroke-width="1.12"/>
<line x1="449.2" y1="192.4" x2="471.7" y2="192.4" stroke="#1c1c1c" stroke-width="1.12"/>
<line x1="459.6" y1="195.1" x2="471.7" y2="195.1" stroke="#1c1c1c" stroke-width="1.12"/>
<circle cx="321.3" cy="193.7" r="0.78" fill="#222" stroke="none" stroke-width="0.6"/>
<circle cx="323.3" cy="193.7" r="0.78" fill="#222" stroke="none" stroke-width="0.6"/>
<circle cx="325.3" cy="193.7" r="0.78" fill="#222" stroke="none" stroke-width="0.6"/>
<circle cx="332.9" cy="196" r="0.78" fill="#222" stroke="none" stroke-width="0.6"/>
<circle cx="334.9" cy="196" r="0.78" fill="#222" stroke="none" stroke-width="0.6"/>
<circle cx="336.9" cy="196" r="0.78" fill="#222" stroke="none" stroke-width="0.6"/>
<circle cx="344.4" cy="198.5" r="0.78" fill="#222" stroke="none" stroke-width="0.6"/>
<circle cx="346.4" cy="198.5" r="0.78" fill="#222" stroke="none" stroke-width="0.6"/>
<circle cx="348.4" cy="198.5" r="0.78" fill="#222" stroke="none" stroke-width="0.6"/>
<circle cx="377.9" cy="193.7" r="0.78" fill="#222" stroke="none" stroke-width="0.6"/>
<circle cx="379.9" cy="193.7" r="0.78" fill="#222" stroke="none" stroke-width="0.6"/>
<circle cx="381.9" cy="193.7" r="0.78" fill="#222" stroke="none" stroke-width="0.6"/>
<circle cx="389.4" cy="196" r="0.78" fill="#222" stroke="none" stroke-width="0.6"/>
<circle cx="391.4" cy="196" r="0.78" fill="#222" stroke="none" stroke-width="0.6"/>
<circle cx="393.4" cy="196" r="0.78" fill="#222" stroke="none" stroke-width="0.6"/>
<circle cx="400.3" cy="198.5" r="0.78" fill="#222" stroke="none" stroke-width="0.6"/>
<circle cx="402.3" cy="198.5" r="0.78" fill="#222" stroke="none" stroke-width="0.6"/>
<circle cx="404.3" cy="198.5" r="0.78" fill="#222" stroke="none" stroke-width="0.6"/>
<circle cx="435.9" cy="193.2" r="0.78" fill="#222" stroke="none" stroke-width="0.6"/>
<circle cx="437.9" cy="193.2" r="0.78" fill="#222" stroke="none" stroke-width="0.6"/>
<circle cx="439.9" cy="193.2" r="0.78" fill="#222" stroke="none" stroke-width="0.6"/>
<circle cx="449.9" cy="195.8" r="0.78" fill="#222" stroke="none" stroke-width="0.6"/>
<text x="458.7" y="200.7" font-size="5" fill="#333">ns</text>
<rect x="483.5" y="181.3" width="5.2" height="5.2" fill="#4a5366"/>
<text x="492.2" y="186" font-size="6" fill="#333">vehicle</text>
<rect x="483.5" y="189.9" width="5.2" height="5.2" fill="#e39020"/>
<text x="492.2" y="194.6" font-size="6" fill="#333">C3</text>
<rect x="483.5" y="198.9" width="5.2" height="5.2" fill="#6bb3e6"/>
<text x="492.2" y="203.6" font-size="6" fill="#333">CAL-101</text>
<rect x="483.5" y="207.6" width="5.2" height="5.2" fill="#c4137e"/>
<text x="492.2" y="212.3" font-size="6" fill="#333">Combo</text>
<text x="9.9" y="270.6" font-size="12.2" font-weight="bold" fill="#0a0a0a">E</text>
<g transform="translate(0 0) scale(1)"><line x1="17.4" y1="278.2" x2="21.8" y2="281.6" stroke="#111" stroke-width="1.5"/><line x1="21.4" y1="281.3" x2="33.0" y2="290.3" stroke="#111" stroke-width="2.7" stroke-linecap="round"/><line x1="15.8" y1="279.4" x2="18.6" y2="276.2" stroke="#111" stroke-width="1.2"/><line x1="20.2" y1="283.3" x2="23.4" y2="279.5" stroke="#111" stroke-width="1.1"/><line x1="33.0" y1="290.3" x2="39.4" y2="295.8" stroke="#555" stroke-width="0.65"/><path d="M29.6 297.6 C33 296.4 34.5 298.5 36 301 C37.2 303 38.6 304 40.6 303.6" stroke="#333" stroke-width="0.7" fill="none"/><path d="M40.4 305.6 C40.0 301 41 296.5 44.5 294.2 C47 292.6 50 292.2 53 291.6 C56.5 291.4 58.5 294 58.8 296.5 C61 299 63.5 301.5 65.2 304.2 L64.6 305.6 Z" fill="#f4f0e6" stroke="#3a3a3a" stroke-width="0.75"/><line x1="40.6" y1="305.6" x2="64.8" y2="305.6" stroke="#2e2e2e" stroke-width="1.1"/><path d="M54.6 290.8 C57.6 291.6 58.4 296.4 57.4 300.2" stroke="#333" stroke-width="0.7" fill="#9aa3ae"/><ellipse cx="52.4" cy="295.4" rx="4.5" ry="5.0" fill="#d4928a" stroke="#333" stroke-width="0.7"/><ellipse cx="43.5" cy="300.3" rx="1.3" ry="2.2" fill="#f4f0e6" stroke="#333" stroke-width="0.6"/></g>
<line x1="68" y1="283.8" x2="68" y2="286.7" stroke="#c21a45" stroke-width="1.3" stroke-opacity="0.45"/>
<path d="M67.05 285.7 L68.95 285.7 L68.5 287.9 L68 288.3 L67.5 287.9 Z" stroke="none" fill="#c21a45" stroke-width="1"/>
<line x1="68" y1="289.2" x2="68" y2="292.1" stroke="#69b0e4" stroke-width="1.3" stroke-opacity="0.45"/>
<path d="M67.05 291.1 L68.95 291.1 L68.5 293.3 L68 293.7 L67.5 293.3 Z" stroke="none" fill="#69b0e4" stroke-width="1"/>
<line x1="68" y1="295.1" x2="68" y2="298.2" stroke="#5e2a7c" stroke-width="1.3" stroke-opacity="0.45"/>
<path d="M67.05 297.2 L68.95 297.2 L68.5 299.4 L68 299.8 L67.5 299.4 Z" stroke="none" fill="#5e2a7c" stroke-width="1"/>
<line x1="70.49" y1="283.8" x2="70.49" y2="286.7" stroke="#c21a45" stroke-width="1.3" stroke-opacity="0.45"/>
<path d="M69.54 285.7 L71.44 285.7 L70.99 287.9 L70.49 288.3 L69.99 287.9 Z" stroke="none" fill="#c21a45" stroke-width="1"/>
<line x1="70.49" y1="295.1" x2="70.49" y2="298.2" stroke="#c21a45" stroke-width="1.3" stroke-opacity="0.45"/>
<path d="M69.54 297.2 L71.44 297.2 L70.99 299.4 L70.49 299.8 L69.99 299.4 Z" stroke="none" fill="#c21a45" stroke-width="1"/>
<line x1="72.98" y1="283.8" x2="72.98" y2="286.7" stroke="#c21a45" stroke-width="1.3" stroke-opacity="0.45"/>
<path d="M72.03 285.7 L73.93 285.7 L73.48 287.9 L72.98 288.3 L72.48 287.9 Z" stroke="none" fill="#c21a45" stroke-width="1"/>
<line x1="72.98" y1="295.1" x2="72.98" y2="298.2" stroke="#c21a45" stroke-width="1.3" stroke-opacity="0.45"/>
<path d="M72.03 297.2 L73.93 297.2 L73.48 299.4 L72.98 299.8 L72.48 299.4 Z" stroke="none" fill="#c21a45" stroke-width="1"/>
<line x1="75.47" y1="283.8" x2="75.47" y2="286.7" stroke="#c21a45" stroke-width="1.3" stroke-opacity="0.45"/>
<path d="M74.52 285.7 L76.42 285.7 L75.97 287.9 L75.47 288.3 L74.97 287.9 Z" stroke="none" fill="#c21a45" stroke-width="1"/>
<line x1="75.47" y1="289.2" x2="75.47" y2="292.1" stroke="#69b0e4" stroke-width="1.3" stroke-opacity="0.45"/>
<path d="M74.52 291.1 L76.42 291.1 L75.97 293.3 L75.47 293.7 L74.97 293.3 Z" stroke="none" fill="#69b0e4" stroke-width="1"/>
<line x1="75.47" y1="295.1" x2="75.47" y2="298.2" stroke="#5e2a7c" stroke-width="1.3" stroke-opacity="0.45"/>
<path d="M74.52 297.2 L76.42 297.2 L75.97 299.4 L75.47 299.8 L74.97 299.4 Z" stroke="none" fill="#5e2a7c" stroke-width="1"/>
<line x1="77.96" y1="283.8" x2="77.96" y2="286.7" stroke="#c21a45" stroke-width="1.3" stroke-opacity="0.45"/>
<path d="M77.01 285.7 L78.91 285.7 L78.46 287.9 L77.96 288.3 L77.46 287.9 Z" stroke="none" fill="#c21a45" stroke-width="1"/>
<line x1="77.96" y1="289.2" x2="77.96" y2="292.1" stroke="#69b0e4" stroke-width="1.3" stroke-opacity="0.45"/>
<path d="M77.01 291.1 L78.91 291.1 L78.46 293.3 L77.96 293.7 L77.46 293.3 Z" stroke="none" fill="#69b0e4" stroke-width="1"/>
<line x1="77.96" y1="295.1" x2="77.96" y2="298.2" stroke="#5e2a7c" stroke-width="1.3" stroke-opacity="0.45"/>
<path d="M77.01 297.2 L78.91 297.2 L78.46 299.4 L77.96 299.8 L77.46 299.4 Z" stroke="none" fill="#5e2a7c" stroke-width="1"/>
<line x1="80.45" y1="283.8" x2="80.45" y2="286.7" stroke="#c21a45" stroke-width="1.3" stroke-opacity="0.45"/>
<path d="M79.5 285.7 L81.4 285.7 L80.95 287.9 L80.45 288.3 L79.95 287.9 Z" stroke="none" fill="#c21a45" stroke-width="1"/>
<line x1="80.45" y1="289.2" x2="80.45" y2="292.1" stroke="#69b0e4" stroke-width="1.3" stroke-opacity="0.45"/>
<path d="M79.5 291.1 L81.4 291.1 L80.95 293.3 L80.45 293.7 L79.95 293.3 Z" stroke="none" fill="#69b0e4" stroke-width="1"/>
<line x1="80.45" y1="295.1" x2="80.45" y2="298.2" stroke="#5e2a7c" stroke-width="1.3" stroke-opacity="0.45"/>
<path d="M79.5 297.2 L81.4 297.2 L80.95 299.4 L80.45 299.8 L79.95 299.4 Z" stroke="none" fill="#5e2a7c" stroke-width="1"/>
<line x1="82.94" y1="283.8" x2="82.94" y2="286.7" stroke="#c21a45" stroke-width="1.3" stroke-opacity="0.45"/>
<path d="M81.99 285.7 L83.89 285.7 L83.44 287.9 L82.94 288.3 L82.44 287.9 Z" stroke="none" fill="#c21a45" stroke-width="1"/>
<line x1="82.94" y1="289.2" x2="82.94" y2="292.1" stroke="#69b0e4" stroke-width="1.3" stroke-opacity="0.45"/>
<path d="M81.99 291.1 L83.89 291.1 L83.44 293.3 L82.94 293.7 L82.44 293.3 Z" stroke="none" fill="#69b0e4" stroke-width="1"/>
<line x1="82.94" y1="295.1" x2="82.94" y2="298.2" stroke="#5e2a7c" stroke-width="1.3" stroke-opacity="0.45"/>
<path d="M81.99 297.2 L83.89 297.2 L83.44 299.4 L82.94 299.8 L82.44 299.4 Z" stroke="none" fill="#5e2a7c" stroke-width="1"/>
<line x1="85.43" y1="283.8" x2="85.43" y2="286.7" stroke="#c21a45" stroke-width="1.3" stroke-opacity="0.45"/>
<path d="M84.48 285.7 L86.38 285.7 L85.93 287.9 L85.43 288.3 L84.93 287.9 Z" stroke="none" fill="#c21a45" stroke-width="1"/>
<line x1="85.43" y1="289.2" x2="85.43" y2="292.1" stroke="#69b0e4" stroke-width="1.3" stroke-opacity="0.45"/>
<path d="M84.48 291.1 L86.38 291.1 L85.93 293.3 L85.43 293.7 L84.93 293.3 Z" stroke="none" fill="#69b0e4" stroke-width="1"/>
<line x1="85.43" y1="295.1" x2="85.43" y2="298.2" stroke="#5e2a7c" stroke-width="1.3" stroke-opacity="0.45"/>
<path d="M84.48 297.2 L86.38 297.2 L85.93 299.4 L85.43 299.8 L84.93 299.4 Z" stroke="none" fill="#5e2a7c" stroke-width="1"/>
<line x1="87.92" y1="283.8" x2="87.92" y2="286.7" stroke="#c21a45" stroke-width="1.3" stroke-opacity="0.45"/>
<path d="M86.97 285.7 L88.87 285.7 L88.42 287.9 L87.92 288.3 L87.42 287.9 Z" stroke="none" fill="#c21a45" stroke-width="1"/>
<line x1="87.92" y1="295.1" x2="87.92" y2="298.2" stroke="#c21a45" stroke-width="1.3" stroke-opacity="0.45"/>
<path d="M86.97 297.2 L88.87 297.2 L88.42 299.4 L87.92 299.8 L87.42 299.4 Z" stroke="none" fill="#c21a45" stroke-width="1"/>
<line x1="90.41" y1="283.8" x2="90.41" y2="286.7" stroke="#c21a45" stroke-width="1.3" stroke-opacity="0.45"/>
<path d="M89.46 285.7 L91.36 285.7 L90.91 287.9 L90.41 288.3 L89.91 287.9 Z" stroke="none" fill="#c21a45" stroke-width="1"/>
<line x1="90.41" y1="295.1" x2="90.41" y2="298.2" stroke="#c21a45" stroke-width="1.3" stroke-opacity="0.45"/>
<path d="M89.46 297.2 L91.36 297.2 L90.91 299.4 L90.41 299.8 L89.91 299.4 Z" stroke="none" fill="#c21a45" stroke-width="1"/>
<line x1="92.9" y1="283.8" x2="92.9" y2="286.7" stroke="#c21a45" stroke-width="1.3" stroke-opacity="0.45"/>
<path d="M91.95 285.7 L93.85 285.7 L93.4 287.9 L92.9 288.3 L92.4 287.9 Z" stroke="none" fill="#c21a45" stroke-width="1"/>
<line x1="92.9" y1="289.2" x2="92.9" y2="292.1" stroke="#69b0e4" stroke-width="1.3" stroke-opacity="0.45"/>
<path d="M91.95 291.1 L93.85 291.1 L93.4 293.3 L92.9 293.7 L92.4 293.3 Z" stroke="none" fill="#69b0e4" stroke-width="1"/>
<line x1="92.9" y1="295.1" x2="92.9" y2="298.2" stroke="#5e2a7c" stroke-width="1.3" stroke-opacity="0.45"/>
<path d="M91.95 297.2 L93.85 297.2 L93.4 299.4 L92.9 299.8 L92.4 299.4 Z" stroke="none" fill="#5e2a7c" stroke-width="1"/>
<line x1="95.39" y1="283.8" x2="95.39" y2="286.7" stroke="#c21a45" stroke-width="1.3" stroke-opacity="0.45"/>
<path d="M94.44 285.7 L96.34 285.7 L95.89 287.9 L95.39 288.3 L94.89 287.9 Z" stroke="none" fill="#c21a45" stroke-width="1"/>
<line x1="95.39" y1="289.2" x2="95.39" y2="292.1" stroke="#69b0e4" stroke-width="1.3" stroke-opacity="0.45"/>
<path d="M94.44 291.1 L96.34 291.1 L95.89 293.3 L95.39 293.7 L94.89 293.3 Z" stroke="none" fill="#69b0e4" stroke-width="1"/>
<line x1="95.39" y1="295.1" x2="95.39" y2="298.2" stroke="#5e2a7c" stroke-width="1.3" stroke-opacity="0.45"/>
<path d="M94.44 297.2 L96.34 297.2 L95.89 299.4 L95.39 299.8 L94.89 299.4 Z" stroke="none" fill="#5e2a7c" stroke-width="1"/>
<line x1="97.88" y1="283.8" x2="97.88" y2="286.7" stroke="#c21a45" stroke-width="1.3" stroke-opacity="0.45"/>
<path d="M96.93 285.7 L98.83 285.7 L98.38 287.9 L97.88 288.3 L97.38 287.9 Z" stroke="none" fill="#c21a45" stroke-width="1"/>
<line x1="97.88" y1="289.2" x2="97.88" y2="292.1" stroke="#69b0e4" stroke-width="1.3" stroke-opacity="0.45"/>
<path d="M96.93 291.1 L98.83 291.1 L98.38 293.3 L97.88 293.7 L97.38 293.3 Z" stroke="none" fill="#69b0e4" stroke-width="1"/>
<line x1="97.88" y1="295.1" x2="97.88" y2="298.2" stroke="#5e2a7c" stroke-width="1.3" stroke-opacity="0.45"/>
<path d="M96.93 297.2 L98.83 297.2 L98.38 299.4 L97.88 299.8 L97.38 299.4 Z" stroke="none" fill="#5e2a7c" stroke-width="1"/>
<line x1="100.37" y1="283.8" x2="100.37" y2="286.7" stroke="#c21a45" stroke-width="1.3" stroke-opacity="0.45"/>
<path d="M99.42 285.7 L101.32 285.7 L100.87 287.9 L100.37 288.3 L99.87 287.9 Z" stroke="none" fill="#c21a45" stroke-width="1"/>
<line x1="100.37" y1="289.2" x2="100.37" y2="292.1" stroke="#69b0e4" stroke-width="1.3" stroke-opacity="0.45"/>
<path d="M99.42 291.1 L101.32 291.1 L100.87 293.3 L100.37 293.7 L99.87 293.3 Z" stroke="none" fill="#69b0e4" stroke-width="1"/>
<line x1="100.37" y1="295.1" x2="100.37" y2="298.2" stroke="#5e2a7c" stroke-width="1.3" stroke-opacity="0.45"/>
<path d="M99.42 297.2 L101.32 297.2 L100.87 299.4 L100.37 299.8 L99.87 299.4 Z" stroke="none" fill="#5e2a7c" stroke-width="1"/>
<line x1="102.86" y1="283.8" x2="102.86" y2="286.7" stroke="#c21a45" stroke-width="1.3" stroke-opacity="0.45"/>
<path d="M101.91 285.7 L103.81 285.7 L103.36 287.9 L102.86 288.3 L102.36 287.9 Z" stroke="none" fill="#c21a45" stroke-width="1"/>
<line x1="102.86" y1="289.2" x2="102.86" y2="292.1" stroke="#69b0e4" stroke-width="1.3" stroke-opacity="0.45"/>
<path d="M101.91 291.1 L103.81 291.1 L103.36 293.3 L102.86 293.7 L102.36 293.3 Z" stroke="none" fill="#69b0e4" stroke-width="1"/>
<line x1="102.86" y1="295.1" x2="102.86" y2="298.2" stroke="#5e2a7c" stroke-width="1.3" stroke-opacity="0.45"/>
<path d="M101.91 297.2 L103.81 297.2 L103.36 299.4 L102.86 299.8 L102.36 299.4 Z" stroke="none" fill="#5e2a7c" stroke-width="1"/>
<line x1="105.35" y1="283.8" x2="105.35" y2="286.7" stroke="#c21a45" stroke-width="1.3" stroke-opacity="0.45"/>
<path d="M104.4 285.7 L106.3 285.7 L105.85 287.9 L105.35 288.3 L104.85 287.9 Z" stroke="none" fill="#c21a45" stroke-width="1"/>
<line x1="105.35" y1="295.1" x2="105.35" y2="298.2" stroke="#c21a45" stroke-width="1.3" stroke-opacity="0.45"/>
<path d="M104.4 297.2 L106.3 297.2 L105.85 299.4 L105.35 299.8 L104.85 299.4 Z" stroke="none" fill="#c21a45" stroke-width="1"/>
<line x1="107.84" y1="283.8" x2="107.84" y2="286.7" stroke="#c21a45" stroke-width="1.3" stroke-opacity="0.45"/>
<path d="M106.89 285.7 L108.79 285.7 L108.34 287.9 L107.84 288.3 L107.34 287.9 Z" stroke="none" fill="#c21a45" stroke-width="1"/>
<line x1="107.84" y1="295.1" x2="107.84" y2="298.2" stroke="#c21a45" stroke-width="1.3" stroke-opacity="0.45"/>
<path d="M106.89 297.2 L108.79 297.2 L108.34 299.4 L107.84 299.8 L107.34 299.4 Z" stroke="none" fill="#c21a45" stroke-width="1"/>
<line x1="110.33" y1="283.8" x2="110.33" y2="286.7" stroke="#c21a45" stroke-width="1.3" stroke-opacity="0.45"/>
<path d="M109.38 285.7 L111.28 285.7 L110.83 287.9 L110.33 288.3 L109.83 287.9 Z" stroke="none" fill="#c21a45" stroke-width="1"/>
<line x1="110.33" y1="289.2" x2="110.33" y2="292.1" stroke="#69b0e4" stroke-width="1.3" stroke-opacity="0.45"/>
<path d="M109.38 291.1 L111.28 291.1 L110.83 293.3 L110.33 293.7 L109.83 293.3 Z" stroke="none" fill="#69b0e4" stroke-width="1"/>
<line x1="110.33" y1="295.1" x2="110.33" y2="298.2" stroke="#5e2a7c" stroke-width="1.3" stroke-opacity="0.45"/>
<path d="M109.38 297.2 L111.28 297.2 L110.83 299.4 L110.33 299.8 L109.83 299.4 Z" stroke="none" fill="#5e2a7c" stroke-width="1"/>
<line x1="112.82" y1="283.8" x2="112.82" y2="286.7" stroke="#c21a45" stroke-width="1.3" stroke-opacity="0.45"/>
<path d="M111.87 285.7 L113.77 285.7 L113.32 287.9 L112.82 288.3 L112.32 287.9 Z" stroke="none" fill="#c21a45" stroke-width="1"/>
<line x1="112.82" y1="289.2" x2="112.82" y2="292.1" stroke="#69b0e4" stroke-width="1.3" stroke-opacity="0.45"/>
<path d="M111.87 291.1 L113.77 291.1 L113.32 293.3 L112.82 293.7 L112.32 293.3 Z" stroke="none" fill="#69b0e4" stroke-width="1"/>
<line x1="112.82" y1="295.1" x2="112.82" y2="298.2" stroke="#5e2a7c" stroke-width="1.3" stroke-opacity="0.45"/>
<path d="M111.87 297.2 L113.77 297.2 L113.32 299.4 L112.82 299.8 L112.32 299.4 Z" stroke="none" fill="#5e2a7c" stroke-width="1"/>
<line x1="115.31" y1="283.8" x2="115.31" y2="286.7" stroke="#c21a45" stroke-width="1.3" stroke-opacity="0.45"/>
<path d="M114.36 285.7 L116.26 285.7 L115.81 287.9 L115.31 288.3 L114.81 287.9 Z" stroke="none" fill="#c21a45" stroke-width="1"/>
<line x1="115.31" y1="289.2" x2="115.31" y2="292.1" stroke="#69b0e4" stroke-width="1.3" stroke-opacity="0.45"/>
<path d="M114.36 291.1 L116.26 291.1 L115.81 293.3 L115.31 293.7 L114.81 293.3 Z" stroke="none" fill="#69b0e4" stroke-width="1"/>
<line x1="115.31" y1="295.1" x2="115.31" y2="298.2" stroke="#5e2a7c" stroke-width="1.3" stroke-opacity="0.45"/>
<path d="M114.36 297.2 L116.26 297.2 L115.81 299.4 L115.31 299.8 L114.81 299.4 Z" stroke="none" fill="#5e2a7c" stroke-width="1"/>
<line x1="66.6" y1="302.5" x2="113" y2="302.5" stroke="#111" stroke-width="1.1"/>
<path d="M111.4 300.4 L116.9 302.5 L111.4 304.6 Z" stroke="none" fill="#111" stroke-width="1"/>
<text x="120.2" y="288.4" font-size="5.4" style="stroke-width:0.06px" fill="#2a2a2a">MI-2</text>
<text x="120.2" y="293.5" font-size="5.4" style="stroke-width:0.06px" fill="#2a2a2a">CAL-101</text>
<text x="120.2" y="299.4" font-size="5.4" style="stroke-width:0.06px" fill="#2a2a2a">combo</text>
<text x="69.8" y="313.7" font-size="5.4" style="stroke-width:0.06px" fill="#2a2a2a">treatment: 21 days</text>
<text x="62.8" y="319.3" font-size="5.4" style="stroke-width:0.06px" fill="#2a2a2a">TTD: 16h post treatment</text>
<text x="10.6" y="330" font-size="12.2" font-weight="bold" fill="#0a0a0a">F</text>
<rect x="42.8" y="348.4" width="67" height="49.8" fill="none" stroke="#111" stroke-width="1.3"/>
<line x1="42.8" y1="398.2" x2="42.8" y2="401.4" stroke="#111" stroke-width="1"/>
<text x="42.8" y="410.3" font-size="6.6" text-anchor="middle" fill="#333">0</text>
<line x1="56.18" y1="398.2" x2="56.18" y2="401.4" stroke="#111" stroke-width="1"/>
<text x="56.18" y="410.3" font-size="6.6" text-anchor="middle" fill="#333">5</text>
<line x1="69.56" y1="398.2" x2="69.56" y2="401.4" stroke="#111" stroke-width="1"/>
<text x="69.56" y="410.3" font-size="6.6" text-anchor="middle" fill="#333">10</text>
<line x1="82.94" y1="398.2" x2="82.94" y2="401.4" stroke="#111" stroke-width="1"/>
<text x="82.94" y="410.3" font-size="6.6" text-anchor="middle" fill="#333">15</text>
<line x1="96.32" y1="398.2" x2="96.32" y2="401.4" stroke="#111" stroke-width="1"/>
<text x="96.32" y="410.3" font-size="6.6" text-anchor="middle" fill="#333">20</text>
<line x1="109.7" y1="398.2" x2="109.7" y2="401.4" stroke="#111" stroke-width="1"/>
<text x="109.7" y="410.3" font-size="6.6" text-anchor="middle" fill="#333">25</text>
<line x1="39.6" y1="348.4" x2="42.8" y2="348.4" stroke="#111" stroke-width="1"/>
<text x="37" y="350.7" font-size="6.4" text-anchor="end" fill="#333" textLength="12.53" lengthAdjust="spacingAndGlyphs">1400</text>
<line x1="39.6" y1="373.3" x2="42.8" y2="373.3" stroke="#111" stroke-width="1"/>
<text x="37" y="375.6" font-size="6.4" text-anchor="end" fill="#333" textLength="9.4" lengthAdjust="spacingAndGlyphs">700</text>
<line x1="39.6" y1="398.2" x2="42.8" y2="398.2" stroke="#111" stroke-width="1"/>
<text x="37" y="400.5" font-size="6.4" text-anchor="end" fill="#333" textLength="3.13" lengthAdjust="spacingAndGlyphs">0</text>
<text x="17.2" y="405.3" font-size="8.4" fill="#1e1e1e" textLength="59.6" lengthAdjust="spacingAndGlyphs" transform="rotate(-90 17.2 405.3)">Tumor volume (mm</text>
<text x="13.8" y="345.7" font-size="5.6" fill="#1e1e1e" transform="rotate(-90 13.8 345.7)">3</text>
<text x="17.2" y="342.6" font-size="8.4" fill="#1e1e1e" transform="rotate(-90 17.2 342.6)">)</text>
<text x="59.7" y="421.5" font-size="8.2" fill="#1e1e1e" textLength="34" lengthAdjust="spacingAndGlyphs">Time (days)</text>
<rect x="64.25" y="393.8" width="1.5" height="1.5" fill="#858585"/>
<rect x="66.75" y="393.8" width="1.5" height="1.5" fill="#858585"/>
<rect x="69.25" y="393.8" width="1.5" height="1.5" fill="#858585"/>
<rect x="71.75" y="393.8" width="1.5" height="1.5" fill="#858585"/>
<rect x="74.25" y="393.8" width="1.5" height="1.5" fill="#858585"/>
<rect x="76.75" y="393.8" width="1.5" height="1.5" fill="#858585"/>
<rect x="79.25" y="393.8" width="1.5" height="1.5" fill="#858585"/>
<rect x="81.75" y="393.8" width="1.5" height="1.5" fill="#858585"/>
<rect x="84.25" y="393.8" width="1.5" height="1.5" fill="#858585"/>
<rect x="86.75" y="393.8" width="1.5" height="1.5" fill="#858585"/>
<rect x="89.25" y="393.8" width="1.5" height="1.5" fill="#858585"/>
<rect x="91.75" y="393.8" width="1.5" height="1.5" fill="#858585"/>
<rect x="94.25" y="393.8" width="1.5" height="1.5" fill="#858585"/>
<rect x="96.75" y="393.8" width="1.5" height="1.5" fill="#858585"/>
<rect x="99.25" y="393.8" width="1.5" height="1.5" fill="#858585"/>
<rect x="101.75" y="393.8" width="1.5" height="1.5" fill="#858585"/>
<rect x="104.25" y="393.8" width="1.5" height="1.5" fill="#858585"/>
<rect x="106.75" y="393.8" width="1.5" height="1.5" fill="#858585"/>
<text x="102.2" y="391.4" font-size="6.4" fill="#333">**</text>
<line x1="90.97" y1="370.8" x2="90.97" y2="377.2" stroke="#3e4a5e" stroke-width="0.8"/>
<line x1="89.17" y1="370.8" x2="92.77" y2="370.8" stroke="#3e4a5e" stroke-width="0.9"/>
<line x1="89.17" y1="377.2" x2="92.77" y2="377.2" stroke="#3e4a5e" stroke-width="0.9"/>
<line x1="99" y1="351.8" x2="99" y2="371.8" stroke="#3e4a5e" stroke-width="0.8"/>
<line x1="97.2" y1="351.8" x2="100.8" y2="351.8" stroke="#3e4a5e" stroke-width="0.9"/>
<line x1="97.2" y1="371.8" x2="100.8" y2="371.8" stroke="#3e4a5e" stroke-width="0.9"/>
<polyline points="45.48,395.5 53.5,395.5 61.53,392.6 72.24,387 80.26,382.2 90.97,374 99,361.8" fill="none" stroke="#3e4a5e" stroke-width="0.8"/>
<circle cx="45.48" cy="395.5" r="1.75" fill="#3e4a5e" stroke="none" stroke-width="0.6"/>
<circle cx="53.5" cy="395.5" r="1.75" fill="#3e4a5e" stroke="none" stroke-width="0.6"/>
<circle cx="61.53" cy="392.6" r="1.75" fill="#3e4a5e" stroke="none" stroke-width="0.6"/>
<circle cx="72.24" cy="387" r="1.75" fill="#3e4a5e" stroke="none" stroke-width="0.6"/>
<circle cx="80.26" cy="382.2" r="1.75" fill="#3e4a5e" stroke="none" stroke-width="0.6"/>
<circle cx="90.97" cy="374" r="1.75" fill="#3e4a5e" stroke="none" stroke-width="0.6"/>
<circle cx="99" cy="361.8" r="1.75" fill="#3e4a5e" stroke="none" stroke-width="0.6"/>
<line x1="90.97" y1="374" x2="90.97" y2="383.3" stroke="#b5163a" stroke-width="0.8"/>
<line x1="89.17" y1="374" x2="92.77" y2="374" stroke="#b5163a" stroke-width="0.9"/>
<line x1="89.17" y1="383.3" x2="92.77" y2="383.3" stroke="#b5163a" stroke-width="0.9"/>
<line x1="99" y1="367.2" x2="99" y2="377.5" stroke="#b5163a" stroke-width="0.8"/>
<line x1="97.2" y1="367.2" x2="100.8" y2="367.2" stroke="#b5163a" stroke-width="0.9"/>
<line x1="97.2" y1="377.5" x2="100.8" y2="377.5" stroke="#b5163a" stroke-width="0.9"/>
<polyline points="45.48,395.5 53.5,395.5 61.53,392.8 72.24,388.2 80.26,385 90.97,379.5 99,372" fill="none" stroke="#b5163a" stroke-width="0.8"/>
<circle cx="45.48" cy="395.5" r="1.75" fill="#b5163a" stroke="none" stroke-width="0.6"/>
<circle cx="53.5" cy="395.5" r="1.75" fill="#b5163a" stroke="none" stroke-width="0.6"/>
<circle cx="61.53" cy="392.8" r="1.75" fill="#b5163a" stroke="none" stroke-width="0.6"/>
<circle cx="72.24" cy="388.2" r="1.75" fill="#b5163a" stroke="none" stroke-width="0.6"/>
<circle cx="80.26" cy="385" r="1.75" fill="#b5163a" stroke="none" stroke-width="0.6"/>
<circle cx="90.97" cy="379.5" r="1.75" fill="#b5163a" stroke="none" stroke-width="0.6"/>
<circle cx="99" cy="372" r="1.75" fill="#b5163a" stroke="none" stroke-width="0.6"/>
<line x1="90.97" y1="371.2" x2="90.97" y2="382.8" stroke="#5cafe6" stroke-width="0.8"/>
<line x1="89.17" y1="371.2" x2="92.77" y2="371.2" stroke="#5cafe6" stroke-width="0.9"/>
<line x1="89.17" y1="382.8" x2="92.77" y2="382.8" stroke="#5cafe6" stroke-width="0.9"/>
<line x1="99" y1="368.8" x2="99" y2="378.5" stroke="#5cafe6" stroke-width="0.8"/>
<line x1="97.2" y1="368.8" x2="100.8" y2="368.8" stroke="#5cafe6" stroke-width="0.9"/>
<line x1="97.2" y1="378.5" x2="100.8" y2="378.5" stroke="#5cafe6" stroke-width="0.9"/>
<polyline points="45.48,395.5 53.5,395.5 61.53,391.6 72.24,389.3 80.26,386.5 90.97,376.8 99,373.8" fill="none" stroke="#5cafe6" stroke-width="0.8"/>
<circle cx="45.48" cy="395.5" r="1.75" fill="#5cafe6" stroke="none" stroke-width="0.6"/>
<circle cx="53.5" cy="395.5" r="1.75" fill="#5cafe6" stroke="none" stroke-width="0.6"/>
<circle cx="61.53" cy="391.6" r="1.75" fill="#5cafe6" stroke="none" stroke-width="0.6"/>
<circle cx="72.24" cy="389.3" r="1.75" fill="#5cafe6" stroke="none" stroke-width="0.6"/>
<circle cx="80.26" cy="386.5" r="1.75" fill="#5cafe6" stroke="none" stroke-width="0.6"/>
<circle cx="90.97" cy="376.8" r="1.75" fill="#5cafe6" stroke="none" stroke-width="0.6"/>
<circle cx="99" cy="373.8" r="1.75" fill="#5cafe6" stroke="none" stroke-width="0.6"/>
<polyline points="45.48,395.5 53.5,395.5 61.53,393.3 72.24,391.2 80.26,391.8 90.97,388.7 99,385" fill="none" stroke="#4b1862" stroke-width="0.8"/>
<circle cx="45.48" cy="395.5" r="1.75" fill="#4b1862" stroke="none" stroke-width="0.6"/>
<circle cx="53.5" cy="395.5" r="1.75" fill="#4b1862" stroke="none" stroke-width="0.6"/>
<circle cx="61.53" cy="393.3" r="1.75" fill="#4b1862" stroke="none" stroke-width="0.6"/>
<circle cx="72.24" cy="391.2" r="1.75" fill="#4b1862" stroke="none" stroke-width="0.6"/>
<circle cx="80.26" cy="391.8" r="1.75" fill="#4b1862" stroke="none" stroke-width="0.6"/>
<circle cx="90.97" cy="388.7" r="1.75" fill="#4b1862" stroke="none" stroke-width="0.6"/>
<circle cx="99" cy="385" r="1.75" fill="#4b1862" stroke="none" stroke-width="0.6"/>
<line x1="112.8" y1="350.9" x2="120.9" y2="350.9" stroke="#3e4a5e" stroke-width="0.9"/>
<circle cx="116.85" cy="350.9" r="1.6" fill="#3e4a5e" stroke="none" stroke-width="0.6"/>
<text x="124" y="353" font-size="5.9" fill="#2a2a2a">Vehicle</text>
<line x1="112.8" y1="359.9" x2="120.9" y2="359.9" stroke="#b5163a" stroke-width="0.9"/>
<circle cx="116.85" cy="359.9" r="1.6" fill="#b5163a" stroke="none" stroke-width="0.6"/>
<text x="124" y="362" font-size="5.9" fill="#2a2a2a">MI-2</text>
<line x1="112.8" y1="368.4" x2="120.9" y2="368.4" stroke="#5cafe6" stroke-width="0.9"/>
<circle cx="116.85" cy="368.4" r="1.6" fill="#5cafe6" stroke="none" stroke-width="0.6"/>
<text x="124" y="370.5" font-size="5.9" fill="#2a2a2a">CAL-101</text>
<line x1="112.8" y1="377.1" x2="120.9" y2="377.1" stroke="#4b1862" stroke-width="0.9"/>
<circle cx="116.85" cy="377.1" r="1.6" fill="#4b1862" stroke="none" stroke-width="0.6"/>
<text x="124" y="379.2" font-size="5.9" fill="#2a2a2a">Combo</text>
<text x="150.4" y="270.6" font-size="12.2" font-weight="bold" fill="#0a0a0a">G</text>
<text x="177.9" y="281.2" font-size="6.3" text-anchor="middle">vehicle</text>
<rect x="165.1" y="284.5" width="25.6" height="1.8" fill="#39435a"/>
<text x="207.8" y="281.2" font-size="6.3" text-anchor="middle">MI-2</text>
<rect x="195" y="284.5" width="25.6" height="1.8" fill="#b3112f"/>
<text x="237.7" y="281.2" font-size="6.3" text-anchor="middle">CAL-101</text>
<rect x="225" y="284.5" width="25.4" height="1.8" fill="#6db4e6"/>
<text x="266.9" y="281.2" font-size="6.3" text-anchor="middle">combo</text>
<rect x="254.2" y="284.5" width="25.4" height="1.8" fill="#4b1a66"/>
<text x="168.8" y="294" font-size="6.6" text-anchor="middle">2</text>
<text x="178.3" y="294" font-size="6.6" text-anchor="middle">3</text>
<text x="187.7" y="294" font-size="6.6" text-anchor="middle">8</text>
<text x="198.5" y="294" font-size="6.6" text-anchor="middle">11</text>
<text x="207.9" y="294" font-size="6.6" text-anchor="middle">12</text>
<text x="217.3" y="294" font-size="6.6" text-anchor="middle">13</text>
<text x="227.5" y="294" font-size="6.6" text-anchor="middle">19</text>
<text x="236.7" y="294" font-size="6.6" text-anchor="middle">21</text>
<text x="248.3" y="294" font-size="6.6" text-anchor="middle">23</text>
<text x="257.7" y="294" font-size="6.6" text-anchor="middle">30</text>
<text x="267.1" y="294" font-size="6.6" text-anchor="middle">34</text>
<text x="276.5" y="294" font-size="6.6" text-anchor="middle">35</text>
<rect x="162.3" y="298.8" width="121.5" height="9" fill="#eaeaea" stroke="#6e6e6e" stroke-width="0.8"/>
<text x="287.3" y="305.5" font-size="6.1">p-S6 S235/6</text>
<rect x="162.3" y="311" width="121.5" height="10.4" fill="#eaeaea" stroke="#6e6e6e" stroke-width="0.8"/>
<text x="287.3" y="318.1" font-size="6.1">S6</text>
<rect x="162.3" y="324.5" width="121.5" height="8.9" fill="#eaeaea" stroke="#6e6e6e" stroke-width="0.8"/>
<text x="287.3" y="331" font-size="6.1">p-IκB S32/6</text>
<rect x="162.3" y="337.1" width="121.5" height="11.9" fill="#eaeaea" stroke="#6e6e6e" stroke-width="0.8"/>
<text x="287.3" y="344.2" font-size="6.1">IκB</text>
<rect x="162.3" y="352.6" width="121.5" height="12.6" fill="#eaeaea" stroke="#6e6e6e" stroke-width="0.8"/>
<text x="287.3" y="360.4" font-size="6.1">Actin</text>
<rect x="162.3" y="368.8" width="121.5" height="13.5" fill="#eaeaea" stroke="#6e6e6e" stroke-width="0.8"/>
<text x="287.3" y="376.4" font-size="6.1">p-p65</text>
<rect x="162.3" y="386.5" width="121.5" height="13.9" fill="#eaeaea" stroke="#6e6e6e" stroke-width="0.8"/>
<text x="287.3" y="394.5" font-size="6.1">Actin</text>
<g filter="url(#bl)"><rect x="164.7" y="301.6" width="8.2" height="2" rx="1" fill="rgb(30,30,30)" fill-opacity="0.1"/><rect x="174.2" y="301.6" width="8.2" height="2" rx="1" fill="rgb(30,30,30)" fill-opacity="0.08"/><rect x="183.6" y="301.6" width="8.2" height="2" rx="1" fill="rgb(30,30,30)" fill-opacity="0.12"/><rect x="194.4" y="301.6" width="8.2" height="2" rx="1" fill="rgb(30,30,30)" fill-opacity="0.22"/><rect x="203.8" y="301.6" width="8.2" height="2" rx="1" fill="rgb(30,30,30)" fill-opacity="0.12"/><rect x="213.2" y="301.6" width="8.2" height="2" rx="1" fill="rgb(30,30,30)" fill-opacity="0.08"/><rect x="223.4" y="301.6" width="8.2" height="2" rx="1" fill="rgb(30,30,30)" fill-opacity="0.55"/><rect x="232.6" y="301.6" width="8.2" height="2" rx="1" fill="rgb(30,30,30)" fill-opacity="0.45"/><rect x="244.2" y="301.6" width="8.2" height="2" rx="1" fill="rgb(30,30,30)" fill-opacity="0.16"/><rect x="253.6" y="301.6" width="8.2" height="2" rx="1" fill="rgb(30,30,30)" fill-opacity="0.7"/><rect x="263" y="301.6" width="8.2" height="2" rx="1" fill="rgb(30,30,30)" fill-opacity="0.7"/><rect x="272.4" y="301.6" width="8.2" height="2" rx="1" fill="rgb(30,30,30)" fill-opacity="0.78"/></g>
<g filter="url(#bl)"><rect x="164.1" y="314.8" width="9.4" height="3" rx="1.5" fill="rgb(30,30,30)" fill-opacity="0.6"/><rect x="173.6" y="314.8" width="9.4" height="3" rx="1.5" fill="rgb(30,30,30)" fill-opacity="0.48"/><rect x="183" y="314.8" width="9.4" height="3" rx="1.5" fill="rgb(30,30,30)" fill-opacity="0.45"/><rect x="193.8" y="314.8" width="9.4" height="3" rx="1.5" fill="rgb(30,30,30)" fill-opacity="0.55"/><rect x="203.2" y="314.8" width="9.4" height="3" rx="1.5" fill="rgb(30,30,30)" fill-opacity="0.58"/><rect x="212.6" y="314.8" width="9.4" height="3" rx="1.5" fill="rgb(30,30,30)" fill-opacity="0.6"/><rect x="222.8" y="314.8" width="9.4" height="3" rx="1.5" fill="rgb(30,30,30)" fill-opacity="0.62"/><rect x="232" y="314.8" width="9.4" height="3" rx="1.5" fill="rgb(30,30,30)" fill-opacity="0.62"/><rect x="243.6" y="314.8" width="9.4" height="3" rx="1.5" fill="rgb(30,30,30)" fill-opacity="0.58"/><rect x="253" y="314.8" width="9.4" height="3" rx="1.5" fill="rgb(30,30,30)" fill-opacity="0.55"/><rect x="262.4" y="314.8" width="9.4" height="3" rx="1.5" fill="rgb(30,30,30)" fill-opacity="0.52"/><rect x="271.8" y="314.8" width="9.4" height="3" rx="1.5" fill="rgb(30,30,30)" fill-opacity="0.42"/></g>
<rect x="162.8" y="325" width="120.5" height="8" fill="#d0d0d0"/>
<g filter="url(#bl)"><rect x="164.1" y="326.9" width="9.4" height="1.8" rx="0.9" fill="rgb(30,30,30)" fill-opacity="0.45"/><rect x="173.6" y="326.9" width="9.4" height="1.8" rx="0.9" fill="rgb(30,30,30)" fill-opacity="0.42"/><rect x="183" y="326.9" width="9.4" height="1.8" rx="0.9" fill="rgb(30,30,30)" fill-opacity="0.42"/><rect x="193.8" y="326.9" width="9.4" height="1.8" rx="0.9" fill="rgb(30,30,30)" fill-opacity="0.55"/><rect x="203.2" y="326.9" width="9.4" height="1.8" rx="0.9" fill="rgb(30,30,30)" fill-opacity="0.55"/><rect x="212.6" y="326.9" width="9.4" height="1.8" rx="0.9" fill="rgb(30,30,30)" fill-opacity="0.55"/><rect x="222.8" y="326.9" width="9.4" height="1.8" rx="0.9" fill="rgb(30,30,30)" fill-opacity="0.5"/><rect x="232" y="326.9" width="9.4" height="1.8" rx="0.9" fill="rgb(30,30,30)" fill-opacity="0.62"/><rect x="243.6" y="326.9" width="9.4" height="1.8" rx="0.9" fill="rgb(30,30,30)" fill-opacity="0.48"/><rect x="253" y="326.9" width="9.4" height="1.8" rx="0.9" fill="rgb(30,30,30)" fill-opacity="0.5"/><rect x="262.4" y="326.9" width="9.4" height="1.8" rx="0.9" fill="rgb(30,30,30)" fill-opacity="0.55"/><rect x="271.8" y="326.9" width="9.4" height="1.8" rx="0.9" fill="rgb(30,30,30)" fill-opacity="0.5"/></g>
<g filter="url(#bl)"><rect x="164.1" y="330.2" width="9.4" height="1.4" rx="0.7" fill="rgb(30,30,30)" fill-opacity="0.2"/><rect x="173.6" y="330.2" width="9.4" height="1.4" rx="0.7" fill="rgb(30,30,30)" fill-opacity="0.2"/><rect x="183" y="330.2" width="9.4" height="1.4" rx="0.7" fill="rgb(30,30,30)" fill-opacity="0.2"/><rect x="193.8" y="330.2" width="9.4" height="1.4" rx="0.7" fill="rgb(30,30,30)" fill-opacity="0.25"/><rect x="203.2" y="330.2" width="9.4" height="1.4" rx="0.7" fill="rgb(30,30,30)" fill-opacity="0.25"/><rect x="212.6" y="330.2" width="9.4" height="1.4" rx="0.7" fill="rgb(30,30,30)" fill-opacity="0.25"/><rect x="222.8" y="330.2" width="9.4" height="1.4" rx="0.7" fill="rgb(30,30,30)" fill-opacity="0.25"/><rect x="232" y="330.2" width="9.4" height="1.4" rx="0.7" fill="rgb(30,30,30)" fill-opacity="0.3"/><rect x="243.6" y="330.2" width="9.4" height="1.4" rx="0.7" fill="rgb(30,30,30)" fill-opacity="0.22"/><rect x="253" y="330.2" width="9.4" height="1.4" rx="0.7" fill="rgb(30,30,30)" fill-opacity="0.22"/><rect x="262.4" y="330.2" width="9.4" height="1.4" rx="0.7" fill="rgb(30,30,30)" fill-opacity="0.25"/><rect x="271.8" y="330.2" width="9.4" height="1.4" rx="0.7" fill="rgb(30,30,30)" fill-opacity="0.22"/></g>
<g filter="url(#bl)"><rect x="164.4" y="339.4" width="8.8" height="1.8" rx="0.9" fill="rgb(30,30,30)" fill-opacity="0.85"/><rect x="173.9" y="339.4" width="8.8" height="1.8" rx="0.9" fill="rgb(30,30,30)" fill-opacity="0.75"/><rect x="183.3" y="339.4" width="8.8" height="1.8" rx="0.9" fill="rgb(30,30,30)" fill-opacity="0.6"/><rect x="194.1" y="339.4" width="8.8" height="1.8" rx="0.9" fill="rgb(30,30,30)" fill-opacity="0.8"/><rect x="203.5" y="339.4" width="8.8" height="1.8" rx="0.9" fill="rgb(30,30,30)" fill-opacity="0.7"/><rect x="212.9" y="339.4" width="8.8" height="1.8" rx="0.9" fill="rgb(30,30,30)" fill-opacity="0.75"/><rect x="223.1" y="339.4" width="8.8" height="1.8" rx="0.9" fill="rgb(30,30,30)" fill-opacity="0.7"/><rect x="232.3" y="339.4" width="8.8" height="1.8" rx="0.9" fill="rgb(30,30,30)" fill-opacity="0.68"/><rect x="243.9" y="339.4" width="8.8" height="1.8" rx="0.9" fill="rgb(30,30,30)" fill-opacity="0.55"/><rect x="253.3" y="339.4" width="8.8" height="1.8" rx="0.9" fill="rgb(30,30,30)" fill-opacity="0.55"/><rect x="262.7" y="339.4" width="8.8" height="1.8" rx="0.9" fill="rgb(30,30,30)" fill-opacity="0.62"/><rect x="272.1" y="339.4" width="8.8" height="1.8" rx="0.9" fill="rgb(30,30,30)" fill-opacity="0.5"/></g>
<g filter="url(#bl)"><rect x="164.4" y="342.6" width="8.8" height="1.8" rx="0.9" fill="rgb(30,30,30)" fill-opacity="0.55"/><rect x="173.9" y="342.6" width="8.8" height="1.8" rx="0.9" fill="rgb(30,30,30)" fill-opacity="0.5"/><rect x="183.3" y="342.6" width="8.8" height="1.8" rx="0.9" fill="rgb(30,30,30)" fill-opacity="0.75"/><rect x="194.1" y="342.6" width="8.8" height="1.8" rx="0.9" fill="rgb(30,30,30)" fill-opacity="0.55"/><rect x="203.5" y="342.6" width="8.8" height="1.8" rx="0.9" fill="rgb(30,30,30)" fill-opacity="0.5"/><rect x="212.9" y="342.6" width="8.8" height="1.8" rx="0.9" fill="rgb(30,30,30)" fill-opacity="0.5"/><rect x="223.1" y="342.6" width="8.8" height="1.8" rx="0.9" fill="rgb(30,30,30)" fill-opacity="0.55"/><rect x="232.3" y="342.6" width="8.8" height="1.8" rx="0.9" fill="rgb(30,30,30)" fill-opacity="0.6"/><rect x="243.9" y="342.6" width="8.8" height="1.8" rx="0.9" fill="rgb(30,30,30)" fill-opacity="0.75"/><rect x="253.3" y="342.6" width="8.8" height="1.8" rx="0.9" fill="rgb(30,30,30)" fill-opacity="0.8"/><rect x="262.7" y="342.6" width="8.8" height="1.8" rx="0.9" fill="rgb(30,30,30)" fill-opacity="0.82"/><rect x="272.1" y="342.6" width="8.8" height="1.8" rx="0.9" fill="rgb(30,30,30)" fill-opacity="0.7"/></g>
<g filter="url(#bl)"><rect x="163.6" y="357.4" width="10.4" height="3.2" rx="1.6" fill="rgb(30,30,30)" fill-opacity="0.78"/><rect x="173.1" y="357.4" width="10.4" height="3.2" rx="1.6" fill="rgb(30,30,30)" fill-opacity="0.64"/><rect x="182.5" y="357.4" width="10.4" height="3.2" rx="1.6" fill="rgb(30,30,30)" fill-opacity="0.6"/><rect x="193.3" y="357.4" width="10.4" height="3.2" rx="1.6" fill="rgb(30,30,30)" fill-opacity="0.64"/><rect x="202.7" y="357.4" width="10.4" height="3.2" rx="1.6" fill="rgb(30,30,30)" fill-opacity="0.6"/><rect x="212.1" y="357.4" width="10.4" height="3.2" rx="1.6" fill="rgb(30,30,30)" fill-opacity="0.62"/><rect x="222.3" y="357.4" width="10.4" height="3.2" rx="1.6" fill="rgb(30,30,30)" fill-opacity="0.6"/><rect x="231.5" y="357.4" width="10.4" height="3.2" rx="1.6" fill="rgb(30,30,30)" fill-opacity="0.6"/><rect x="243.1" y="357.4" width="10.4" height="3.2" rx="1.6" fill="rgb(30,30,30)" fill-opacity="0.6"/><rect x="252.5" y="357.4" width="10.4" height="3.2" rx="1.6" fill="rgb(30,30,30)" fill-opacity="0.62"/><rect x="261.9" y="357.4" width="10.4" height="3.2" rx="1.6" fill="rgb(30,30,30)" fill-opacity="0.64"/><rect x="271.3" y="357.4" width="10.4" height="3.2" rx="1.6" fill="rgb(30,30,30)" fill-opacity="0.66"/></g>
<rect x="162.8" y="369.3" width="120.5" height="12.5" filter="url(#noise)" fill="#000"/>
<g filter="url(#bl2)"><rect x="164.05" y="372.5" width="9.5" height="5" rx="2.5" fill="rgb(30,30,30)" fill-opacity="0.08"/><rect x="173.55" y="372.5" width="9.5" height="5" rx="2.5" fill="rgb(30,30,30)" fill-opacity="0.1"/><rect x="182.95" y="372.5" width="9.5" height="5" rx="2.5" fill="rgb(30,30,30)" fill-opacity="0.14"/><rect x="193.75" y="372.5" width="9.5" height="5" rx="2.5" fill="rgb(30,30,30)" fill-opacity="0.1"/><rect x="203.15" y="372.5" width="9.5" height="5" rx="2.5" fill="rgb(30,30,30)" fill-opacity="0.08"/><rect x="212.55" y="372.5" width="9.5" height="5" rx="2.5" fill="rgb(30,30,30)" fill-opacity="0.15"/><rect x="222.75" y="372.5" width="9.5" height="5" rx="2.5" fill="rgb(30,30,30)" fill-opacity="0.16"/><rect x="231.95" y="372.5" width="9.5" height="5" rx="2.5" fill="rgb(30,30,30)" fill-opacity="0.1"/><rect x="243.55" y="372.5" width="9.5" height="5" rx="2.5" fill="rgb(30,30,30)" fill-opacity="0.08"/><rect x="252.95" y="372.5" width="9.5" height="5" rx="2.5" fill="rgb(30,30,30)" fill-opacity="0.08"/><rect x="262.35" y="372.5" width="9.5" height="5" rx="2.5" fill="rgb(30,30,30)" fill-opacity="0.14"/><rect x="271.75" y="372.5" width="9.5" height="5" rx="2.5" fill="rgb(30,30,30)" fill-opacity="0.08"/></g>
<g filter="url(#bl)"><rect x="163.6" y="392.8" width="10.4" height="2.2" rx="1.1" fill="rgb(30,30,30)" fill-opacity="0.85"/><rect x="173.1" y="392.8" width="10.4" height="2.2" rx="1.1" fill="rgb(30,30,30)" fill-opacity="0.72"/><rect x="182.5" y="392.8" width="10.4" height="2.2" rx="1.1" fill="rgb(30,30,30)" fill-opacity="0.7"/><rect x="193.3" y="392.8" width="10.4" height="2.2" rx="1.1" fill="rgb(30,30,30)" fill-opacity="0.72"/><rect x="202.7" y="392.8" width="10.4" height="2.2" rx="1.1" fill="rgb(30,30,30)" fill-opacity="0.75"/><rect x="212.1" y="392.8" width="10.4" height="2.2" rx="1.1" fill="rgb(30,30,30)" fill-opacity="0.3"/><rect x="222.3" y="392.8" width="10.4" height="2.2" rx="1.1" fill="rgb(30,30,30)" fill-opacity="0.72"/><rect x="231.5" y="392.8" width="10.4" height="2.2" rx="1.1" fill="rgb(30,30,30)" fill-opacity="0.72"/><rect x="243.1" y="392.8" width="10.4" height="2.2" rx="1.1" fill="rgb(30,30,30)" fill-opacity="0.72"/><rect x="252.5" y="392.8" width="10.4" height="2.2" rx="1.1" fill="rgb(30,30,30)" fill-opacity="0.72"/><rect x="261.9" y="392.8" width="10.4" height="2.2" rx="1.1" fill="rgb(30,30,30)" fill-opacity="0.72"/><rect x="271.3" y="392.8" width="10.4" height="2.2" rx="1.1" fill="rgb(30,30,30)" fill-opacity="0.75"/></g>
<text x="157.8" y="308.9" font-size="6.5" text-anchor="end" fill="#1a1a1a">25</text>
<line x1="160.4" y1="306.4" x2="162" y2="306.4" stroke="#333" stroke-width="0.8"/>
<text x="157.8" y="321.9" font-size="6.5" text-anchor="end" fill="#1a1a1a">25</text>
<line x1="160.4" y1="319.4" x2="162" y2="319.4" stroke="#333" stroke-width="0.8"/>
<text x="157.8" y="330.8" font-size="6.5" text-anchor="end" fill="#1a1a1a">37</text>
<line x1="160.4" y1="328.3" x2="162" y2="328.3" stroke="#333" stroke-width="0.8"/>
<text x="157.8" y="342.1" font-size="6.5" text-anchor="end" fill="#1a1a1a">37</text>
<line x1="160.4" y1="339.6" x2="162" y2="339.6" stroke="#333" stroke-width="0.8"/>
<text x="157.8" y="365.7" font-size="6.5" text-anchor="end" fill="#1a1a1a">37</text>
<line x1="160.4" y1="363.2" x2="162" y2="363.2" stroke="#333" stroke-width="0.8"/>
<text x="157.8" y="372.5" font-size="6.5" text-anchor="end" fill="#1a1a1a">75</text>
<line x1="160.4" y1="370" x2="162" y2="370" stroke="#333" stroke-width="0.8"/>
<text x="157.8" y="399.7" font-size="6.5" text-anchor="end" fill="#1a1a1a">37</text>
<line x1="160.4" y1="397.2" x2="162" y2="397.2" stroke="#333" stroke-width="0.8"/>
<text x="9.9" y="449.4" font-size="12.2" font-weight="bold" fill="#0a0a0a">I</text>
<g transform="translate(1.3 191.2) scale(1)"><line x1="17.4" y1="278.2" x2="21.8" y2="281.6" stroke="#111" stroke-width="1.5"/><line x1="21.4" y1="281.3" x2="33.0" y2="290.3" stroke="#111" stroke-width="2.7" stroke-linecap="round"/><line x1="15.8" y1="279.4" x2="18.6" y2="276.2" stroke="#111" stroke-width="1.2"/><line x1="20.2" y1="283.3" x2="23.4" y2="279.5" stroke="#111" stroke-width="1.1"/><line x1="33.0" y1="290.3" x2="39.4" y2="295.8" stroke="#555" stroke-width="0.65"/><path d="M29.6 297.6 C33 296.4 34.5 298.5 36 301 C37.2 303 38.6 304 40.6 303.6" stroke="#333" stroke-width="0.7" fill="none"/><path d="M40.4 305.6 C40.0 301 41 296.5 44.5 294.2 C47 292.6 50 292.2 53 291.6 C56.5 291.4 58.5 294 58.8 296.5 C61 299 63.5 301.5 65.2 304.2 L64.6 305.6 Z" fill="#f4f0e6" stroke="#3a3a3a" stroke-width="0.75"/><line x1="40.6" y1="305.6" x2="64.8" y2="305.6" stroke="#2e2e2e" stroke-width="1.1"/><path d="M54.6 290.8 C57.6 291.6 58.4 296.4 57.4 300.2" stroke="#333" stroke-width="0.7" fill="#9aa3ae"/><ellipse cx="52.4" cy="295.4" rx="4.5" ry="5.0" fill="#d4928a" stroke="#333" stroke-width="0.7"/><ellipse cx="43.5" cy="300.3" rx="1.3" ry="2.2" fill="#f4f0e6" stroke="#333" stroke-width="0.6"/></g>
<line x1="70.2" y1="474.8" x2="70.2" y2="477.8" stroke="#c21a45" stroke-width="1.3" stroke-opacity="0.45"/>
<path d="M69.25 476.8 L71.15 476.8 L70.7 479 L70.2 479.4 L69.7 479 Z" stroke="none" fill="#c21a45" stroke-width="1"/>
<line x1="72.7" y1="474.8" x2="72.7" y2="477.8" stroke="#c21a45" stroke-width="1.3" stroke-opacity="0.45"/>
<path d="M71.75 476.8 L73.65 476.8 L73.2 479 L72.7 479.4 L72.2 479 Z" stroke="none" fill="#c21a45" stroke-width="1"/>
<line x1="70.2" y1="480.7" x2="70.2" y2="483.7" stroke="#69b0e4" stroke-width="1.3" stroke-opacity="0.45"/>
<path d="M69.25 482.7 L71.15 482.7 L70.7 484.9 L70.2 485.3 L69.7 484.9 Z" stroke="none" fill="#69b0e4" stroke-width="1"/>
<line x1="72.7" y1="480.7" x2="72.7" y2="483.7" stroke="#69b0e4" stroke-width="1.3" stroke-opacity="0.45"/>
<path d="M71.75 482.7 L73.65 482.7 L73.2 484.9 L72.7 485.3 L72.2 484.9 Z" stroke="none" fill="#69b0e4" stroke-width="1"/>
<line x1="70.2" y1="486.4" x2="70.2" y2="489.3" stroke="#7a4a94" stroke-width="1.3" stroke-opacity="0.45"/>
<path d="M69.25 488.3 L71.15 488.3 L70.7 490.5 L70.2 490.9 L69.7 490.5 Z" stroke="none" fill="#7a4a94" stroke-width="1"/>
<line x1="72.7" y1="486.4" x2="72.7" y2="489.3" stroke="#5e2a7c" stroke-width="1.3" stroke-opacity="0.45"/>
<path d="M71.75 488.3 L73.65 488.3 L73.2 490.5 L72.7 490.9 L72.2 490.5 Z" stroke="none" fill="#5e2a7c" stroke-width="1"/>
<line x1="68.9" y1="493.2" x2="72" y2="493.2" stroke="#111" stroke-width="1"/>
<path d="M71.4 491.5 L75.4 493.2 L71.4 494.9 Z" stroke="none" fill="#111" stroke-width="1"/>
<text x="78.7" y="479" font-size="5.4" style="stroke-width:0.06px" fill="#2a2a2a">MI-2</text>
<text x="78.7" y="484.9" font-size="5.4" style="stroke-width:0.06px" fill="#2a2a2a">CAL-101</text>
<text x="78.7" y="490.4" font-size="5.4" style="stroke-width:0.06px" fill="#2a2a2a">combo</text>
<text x="48.4" y="506.5" font-size="5.3" style="stroke-width:0.06px" fill="#2a2a2a">treatment: 28 hours</text>
<text x="44" y="512.8" font-size="5.4" style="stroke-width:0.06px" fill="#2a2a2a">TTD: 4h post treatment</text>
<text x="115.9" y="449.4" font-size="12.2" font-weight="bold" fill="#0a0a0a">J</text>
<text x="148.5" y="470.2" font-size="6.3" text-anchor="middle">vehicle</text>
<rect x="135.8" y="474.1" width="25.4" height="1.8" fill="#39435a"/>
<text x="178.3" y="470.2" font-size="6.3" text-anchor="middle">MI-2</text>
<rect x="165.4" y="474.1" width="25.8" height="1.8" fill="#b3112f"/>
<text x="207.9" y="470.2" font-size="6.3" text-anchor="middle">CAL-101</text>
<rect x="195" y="474.1" width="25.8" height="1.8" fill="#6db4e6"/>
<text x="237.3" y="470.2" font-size="6.3" text-anchor="middle">combo</text>
<rect x="224.6" y="474.1" width="25.4" height="1.8" fill="#4b1a66"/>
<rect x="132.2" y="478" width="121.8" height="10.6" fill="#eaeaea" stroke="#6e6e6e" stroke-width="0.8"/>
<rect x="132.2" y="491.6" width="121.8" height="9.2" fill="#eaeaea" stroke="#6e6e6e" stroke-width="0.8"/>
<rect x="132.2" y="503.2" width="121.8" height="20.8" fill="#eaeaea" stroke="#6e6e6e" stroke-width="0.8"/>
<rect x="132.2" y="527.2" width="121.8" height="9.8" fill="#eaeaea" stroke="#6e6e6e" stroke-width="0.8"/>
<rect x="132.2" y="539.8" width="121.8" height="9.4" fill="#eaeaea" stroke="#6e6e6e" stroke-width="0.8"/>
<rect x="132.2" y="551.9" width="121.8" height="9.9" fill="#eaeaea" stroke="#6e6e6e" stroke-width="0.8"/>
<text x="257" y="485.2" font-size="6.1">p-S6 S235/6</text>
<text x="257" y="497" font-size="6.1">S6</text>
<text x="257" y="508.8" font-size="6.1">Roquin</text>
<text x="257" y="522.2" font-size="6.1">p50</text>
<text x="257" y="534.4" font-size="6.1">BCL10 uncleaved</text>
<text x="257" y="546.9" font-size="6.1">Actin</text>
<text x="257" y="559.1" font-size="6.1">Actin</text>
<g filter="url(#bl)"><rect x="134.35" y="483.2" width="9.3" height="2" rx="1" fill="rgb(30,30,30)" fill-opacity="0.15"/><rect x="143.85" y="483.2" width="9.3" height="2" rx="1" fill="rgb(30,30,30)" fill-opacity="0.15"/><rect x="153.35" y="483.2" width="9.3" height="2" rx="1" fill="rgb(30,30,30)" fill-opacity="0.2"/><rect x="164.35" y="483.2" width="9.3" height="2" rx="1" fill="rgb(30,30,30)" fill-opacity="0.65"/><rect x="173.65" y="483.2" width="9.3" height="2" rx="1" fill="rgb(30,30,30)" fill-opacity="0.85"/><rect x="183.05" y="483.2" width="9.3" height="2" rx="1" fill="rgb(30,30,30)" fill-opacity="0.3"/><rect x="193.85" y="483.2" width="9.3" height="2" rx="1" fill="rgb(30,30,30)" fill-opacity="0.35"/><rect x="203.35" y="483.2" width="9.3" height="2" rx="1" fill="rgb(30,30,30)" fill-opacity="0.98"/><rect x="212.85" y="483.2" width="9.3" height="2" rx="1" fill="rgb(30,30,30)" fill-opacity="0.3"/><rect x="223.35" y="483.2" width="9.3" height="2" rx="1" fill="rgb(30,30,30)" fill-opacity="0.42"/><rect x="232.65" y="483.2" width="9.3" height="2" rx="1" fill="rgb(30,30,30)" fill-opacity="0.25"/><rect x="242.05" y="483.2" width="9.3" height="2" rx="1" fill="rgb(30,30,30)" fill-opacity="0.1"/></g>
<rect x="132.7" y="492.1" width="120.8" height="8.2" fill="#dcdcdc"/>
<g filter="url(#bl)"><rect x="134.35" y="495.1" width="9.3" height="2.4" rx="1.2" fill="rgb(30,30,30)" fill-opacity="0.55"/><rect x="143.85" y="495.1" width="9.3" height="2.4" rx="1.2" fill="rgb(30,30,30)" fill-opacity="0.55"/><rect x="153.35" y="495.1" width="9.3" height="2.4" rx="1.2" fill="rgb(30,30,30)" fill-opacity="0.5"/><rect x="164.35" y="495.1" width="9.3" height="2.4" rx="1.2" fill="rgb(30,30,30)" fill-opacity="0.55"/><rect x="173.65" y="495.1" width="9.3" height="2.4" rx="1.2" fill="rgb(30,30,30)" fill-opacity="0.55"/><rect x="183.05" y="495.1" width="9.3" height="2.4" rx="1.2" fill="rgb(30,30,30)" fill-opacity="0.5"/><rect x="193.85" y="495.1" width="9.3" height="2.4" rx="1.2" fill="rgb(30,30,30)" fill-opacity="0.5"/><rect x="203.35" y="495.1" width="9.3" height="2.4" rx="1.2" fill="rgb(30,30,30)" fill-opacity="0.48"/><rect x="212.85" y="495.1" width="9.3" height="2.4" rx="1.2" fill="rgb(30,30,30)" fill-opacity="0.48"/><rect x="223.35" y="495.1" width="9.3" height="2.4" rx="1.2" fill="rgb(30,30,30)" fill-opacity="0.48"/><rect x="232.65" y="495.1" width="9.3" height="2.4" rx="1.2" fill="rgb(30,30,30)" fill-opacity="0.5"/><rect x="242.05" y="495.1" width="9.3" height="2.4" rx="1.2" fill="rgb(30,30,30)" fill-opacity="0.45"/></g>
<g filter="url(#bl)"><rect x="134.35" y="506.4" width="9.3" height="1.6" rx="0.8" fill="rgb(30,30,30)" fill-opacity="0.06"/><rect x="143.85" y="506.4" width="9.3" height="1.6" rx="0.8" fill="rgb(30,30,30)" fill-opacity="0.06"/><rect x="153.35" y="506.4" width="9.3" height="1.6" rx="0.8" fill="rgb(30,30,30)" fill-opacity="0.06"/><rect x="164.35" y="506.4" width="9.3" height="1.6" rx="0.8" fill="rgb(30,30,30)" fill-opacity="0.12"/><rect x="173.65" y="506.4" width="9.3" height="1.6" rx="0.8" fill="rgb(30,30,30)" fill-opacity="0.12"/><rect x="183.05" y="506.4" width="9.3" height="1.6" rx="0.8" fill="rgb(30,30,30)" fill-opacity="0.06"/><rect x="193.85" y="506.4" width="9.3" height="1.6" rx="0.8" fill="rgb(30,30,30)" fill-opacity="0.08"/><rect x="203.35" y="506.4" width="9.3" height="1.6" rx="0.8" fill="rgb(30,30,30)" fill-opacity="0.06"/><rect x="212.85" y="506.4" width="9.3" height="1.6" rx="0.8" fill="rgb(30,30,30)" fill-opacity="0.06"/><rect x="223.35" y="506.4" width="9.3" height="1.6" rx="0.8" fill="rgb(30,30,30)" fill-opacity="0.06"/><rect x="232.65" y="506.4" width="9.3" height="1.6" rx="0.8" fill="rgb(30,30,30)" fill-opacity="0.06"/></g>
<g filter="url(#bl)"><rect x="134.35" y="517.9" width="9.3" height="2.2" rx="1.1" fill="rgb(30,30,30)" fill-opacity="0.55"/><rect x="143.85" y="517.9" width="9.3" height="2.2" rx="1.1" fill="rgb(30,30,30)" fill-opacity="0.5"/><rect x="153.35" y="517.9" width="9.3" height="2.2" rx="1.1" fill="rgb(30,30,30)" fill-opacity="0.5"/><rect x="164.35" y="517.9" width="9.3" height="2.2" rx="1.1" fill="rgb(30,30,30)" fill-opacity="0.45"/><rect x="173.65" y="517.9" width="9.3" height="2.2" rx="1.1" fill="rgb(30,30,30)" fill-opacity="0.5"/><rect x="183.05" y="517.9" width="9.3" height="2.2" rx="1.1" fill="rgb(30,30,30)" fill-opacity="0.3"/><rect x="193.85" y="517.9" width="9.3" height="2.2" rx="1.1" fill="rgb(30,30,30)" fill-opacity="0.5"/><rect x="203.35" y="517.9" width="9.3" height="2.2" rx="1.1" fill="rgb(30,30,30)" fill-opacity="0.45"/><rect x="212.85" y="517.9" width="9.3" height="2.2" rx="1.1" fill="rgb(30,30,30)" fill-opacity="0.45"/><rect x="223.35" y="517.9" width="9.3" height="2.2" rx="1.1" fill="rgb(30,30,30)" fill-opacity="0.48"/><rect x="232.65" y="517.9" width="9.3" height="2.2" rx="1.1" fill="rgb(30,30,30)" fill-opacity="0.5"/><rect x="242.05" y="517.9" width="9.3" height="2.2" rx="1.1" fill="rgb(30,30,30)" fill-opacity="0.35"/></g>
<g filter="url(#bl)"><rect x="134.35" y="530.7" width="9.3" height="2.6" rx="1.3" fill="rgb(30,30,30)" fill-opacity="0.85"/><rect x="143.85" y="530.7" width="9.3" height="2.6" rx="1.3" fill="rgb(30,30,30)" fill-opacity="0.7"/><rect x="153.35" y="530.7" width="9.3" height="2.6" rx="1.3" fill="rgb(30,30,30)" fill-opacity="0.62"/><rect x="164.35" y="530.7" width="9.3" height="2.6" rx="1.3" fill="rgb(30,30,30)" fill-opacity="0.95"/><rect x="173.65" y="530.7" width="9.3" height="2.6" rx="1.3" fill="rgb(30,30,30)" fill-opacity="0.78"/><rect x="183.05" y="530.7" width="9.3" height="2.6" rx="1.3" fill="rgb(30,30,30)" fill-opacity="0.85"/><rect x="193.85" y="530.7" width="9.3" height="2.6" rx="1.3" fill="rgb(30,30,30)" fill-opacity="0.95"/><rect x="203.35" y="530.7" width="9.3" height="2.6" rx="1.3" fill="rgb(30,30,30)" fill-opacity="0.9"/><rect x="212.85" y="530.7" width="9.3" height="2.6" rx="1.3" fill="rgb(30,30,30)" fill-opacity="0.58"/><rect x="223.35" y="530.7" width="9.3" height="2.6" rx="1.3" fill="rgb(30,30,30)" fill-opacity="0.85"/><rect x="232.65" y="530.7" width="9.3" height="2.6" rx="1.3" fill="rgb(30,30,30)" fill-opacity="0.9"/><rect x="242.05" y="530.7" width="9.3" height="2.6" rx="1.3" fill="rgb(30,30,30)" fill-opacity="0.85"/></g>
<g filter="url(#bl)"><rect x="134.35" y="542.8" width="9.3" height="2" rx="1" fill="rgb(30,30,30)" fill-opacity="0.6"/><rect x="143.85" y="542.8" width="9.3" height="2" rx="1" fill="rgb(30,30,30)" fill-opacity="0.6"/><rect x="153.35" y="542.8" width="9.3" height="2" rx="1" fill="rgb(30,30,30)" fill-opacity="0.6"/><rect x="164.35" y="542.8" width="9.3" height="2" rx="1" fill="rgb(30,30,30)" fill-opacity="0.6"/><rect x="173.65" y="542.8" width="9.3" height="2" rx="1" fill="rgb(30,30,30)" fill-opacity="0.6"/><rect x="183.05" y="542.8" width="9.3" height="2" rx="1" fill="rgb(30,30,30)" fill-opacity="0.6"/><rect x="193.85" y="542.8" width="9.3" height="2" rx="1" fill="rgb(30,30,30)" fill-opacity="0.6"/><rect x="203.35" y="542.8" width="9.3" height="2" rx="1" fill="rgb(30,30,30)" fill-opacity="0.55"/><rect x="212.85" y="542.8" width="9.3" height="2" rx="1" fill="rgb(30,30,30)" fill-opacity="0.6"/><rect x="223.35" y="542.8" width="9.3" height="2" rx="1" fill="rgb(30,30,30)" fill-opacity="0.6"/><rect x="232.65" y="542.8" width="9.3" height="2" rx="1" fill="rgb(30,30,30)" fill-opacity="0.6"/><rect x="242.05" y="542.8" width="9.3" height="2" rx="1" fill="rgb(30,30,30)" fill-opacity="0.6"/></g>
<g filter="url(#bl)"><rect x="134.35" y="555.9" width="9.3" height="2.2" rx="1.1" fill="rgb(30,30,30)" fill-opacity="0.78"/><rect x="143.85" y="555.9" width="9.3" height="2.2" rx="1.1" fill="rgb(30,30,30)" fill-opacity="0.82"/><rect x="153.35" y="555.9" width="9.3" height="2.2" rx="1.1" fill="rgb(30,30,30)" fill-opacity="0.82"/><rect x="164.35" y="555.9" width="9.3" height="2.2" rx="1.1" fill="rgb(30,30,30)" fill-opacity="0.78"/><rect x="173.65" y="555.9" width="9.3" height="2.2" rx="1.1" fill="rgb(30,30,30)" fill-opacity="0.8"/><rect x="183.05" y="555.9" width="9.3" height="2.2" rx="1.1" fill="rgb(30,30,30)" fill-opacity="0.8"/><rect x="193.85" y="555.9" width="9.3" height="2.2" rx="1.1" fill="rgb(30,30,30)" fill-opacity="0.78"/><rect x="203.35" y="555.9" width="9.3" height="2.2" rx="1.1" fill="rgb(30,30,30)" fill-opacity="0.72"/><rect x="212.85" y="555.9" width="9.3" height="2.2" rx="1.1" fill="rgb(30,30,30)" fill-opacity="0.7"/><rect x="223.35" y="555.9" width="9.3" height="2.2" rx="1.1" fill="rgb(30,30,30)" fill-opacity="0.72"/><rect x="232.65" y="555.9" width="9.3" height="2.2" rx="1.1" fill="rgb(30,30,30)" fill-opacity="0.72"/><rect x="242.05" y="555.9" width="9.3" height="2.2" rx="1.1" fill="rgb(30,30,30)" fill-opacity="0.72"/></g>
<text x="127.5" y="488.3" font-size="6.5" text-anchor="end" fill="#1a1a1a">25</text>
<line x1="130.1" y1="485.8" x2="131.7" y2="485.8" stroke="#333" stroke-width="0.8"/>
<text x="127.5" y="501.1" font-size="6.5" text-anchor="end" fill="#1a1a1a">25</text>
<line x1="130.1" y1="498.6" x2="131.7" y2="498.6" stroke="#333" stroke-width="0.8"/>
<text x="127.5" y="508.7" font-size="6.5" text-anchor="end" fill="#1a1a1a">100</text>
<line x1="130.1" y1="506.2" x2="131.7" y2="506.2" stroke="#333" stroke-width="0.8"/>
<text x="127.5" y="513.7" font-size="6.5" text-anchor="end" fill="#1a1a1a">75</text>
<line x1="130.1" y1="511.2" x2="131.7" y2="511.2" stroke="#333" stroke-width="0.8"/>
<text x="127.5" y="521.3" font-size="6.5" text-anchor="end" fill="#1a1a1a">50</text>
<line x1="130.1" y1="518.8" x2="131.7" y2="518.8" stroke="#333" stroke-width="0.8"/>
<text x="127.5" y="529" font-size="6.5" text-anchor="end" fill="#1a1a1a">37</text>
<text x="127.5" y="550.2" font-size="6.5" text-anchor="end" fill="#1a1a1a">37</text>
<line x1="130.1" y1="547.7" x2="131.7" y2="547.7" stroke="#333" stroke-width="0.8"/>
<text x="127.5" y="564.5" font-size="6.5" text-anchor="end" fill="#1a1a1a">37</text>
<line x1="130.1" y1="562" x2="131.7" y2="562" stroke="#333" stroke-width="0.8"/>
<text x="328.2" y="270.6" font-size="12.2" font-weight="bold" fill="#0a0a0a">H</text>
<line x1="363.8" y1="274.4" x2="363.8" y2="301" stroke="#151515" stroke-width="1"/>
<line x1="363.8" y1="306.4" x2="363.8" y2="329.3" stroke="#151515" stroke-width="1"/>
<line x1="362.2" y1="303" x2="365.4" y2="298.8" stroke="#151515" stroke-width="0.9"/>
<line x1="362.2" y1="308.4" x2="365.4" y2="304.2" stroke="#151515" stroke-width="0.9"/>
<line x1="361.4" y1="276.6" x2="363.8" y2="276.6" stroke="#151515" stroke-width="0.8"/>
<line x1="361.4" y1="282.6" x2="363.8" y2="282.6" stroke="#151515" stroke-width="0.8"/>
<line x1="361.4" y1="288.6" x2="363.8" y2="288.6" stroke="#151515" stroke-width="0.8"/>
<line x1="361.4" y1="295" x2="363.8" y2="295" stroke="#151515" stroke-width="0.8"/>
<line x1="361.4" y1="301.1" x2="363.8" y2="301.1" stroke="#151515" stroke-width="0.8"/>
<line x1="361.4" y1="308" x2="363.8" y2="308" stroke="#151515" stroke-width="0.8"/>
<line x1="361.4" y1="312" x2="363.8" y2="312" stroke="#151515" stroke-width="0.8"/>
<line x1="361.4" y1="317.1" x2="363.8" y2="317.1" stroke="#151515" stroke-width="0.8"/>
<line x1="361.4" y1="322.8" x2="363.8" y2="322.8" stroke="#151515" stroke-width="0.8"/>
<line x1="361.4" y1="329.1" x2="363.8" y2="329.1" stroke="#151515" stroke-width="0.8"/>
<text x="359.2" y="278.7" font-size="6" text-anchor="end" fill="#1e1e1e" textLength="5.67" lengthAdjust="spacingAndGlyphs">20</text>
<text x="359.2" y="284.7" font-size="6" text-anchor="end" fill="#1e1e1e" textLength="5.67" lengthAdjust="spacingAndGlyphs">16</text>
<text x="359.2" y="290.7" font-size="6" text-anchor="end" fill="#1e1e1e" textLength="5.67" lengthAdjust="spacingAndGlyphs">12</text>
<text x="359.2" y="297.1" font-size="6" text-anchor="end" fill="#1e1e1e" textLength="2.84" lengthAdjust="spacingAndGlyphs">8</text>
<text x="359.2" y="303.2" font-size="6" text-anchor="end" fill="#1e1e1e" textLength="2.84" lengthAdjust="spacingAndGlyphs">4</text>
<text x="359.2" y="310.1" font-size="6" text-anchor="end" fill="#1e1e1e" textLength="2.84" lengthAdjust="spacingAndGlyphs">4</text>
<text x="359.2" y="314.4" font-size="6" text-anchor="end" fill="#1e1e1e" textLength="2.84" lengthAdjust="spacingAndGlyphs">3</text>
<text x="359.2" y="319.4" font-size="6" text-anchor="end" fill="#1e1e1e" textLength="2.84" lengthAdjust="spacingAndGlyphs">2</text>
<text x="359.2" y="325" font-size="6" text-anchor="end" fill="#1e1e1e" textLength="2.84" lengthAdjust="spacingAndGlyphs">1</text>
<text x="359.2" y="331.2" font-size="6" text-anchor="end" fill="#1e1e1e" textLength="2.84" lengthAdjust="spacingAndGlyphs">0</text>
<line x1="361.6" y1="329.3" x2="415.6" y2="329.3" stroke="#151515" stroke-width="1.1"/>
<text x="335.8" y="301.2" font-size="7.3" text-anchor="middle" fill="#1e1e1e" textLength="24" lengthAdjust="spacingAndGlyphs" transform="rotate(-90 335.8 301.2)">p-S6/S6</text>
<text x="344.6" y="301.2" font-size="7.3" text-anchor="middle" fill="#1e1e1e" textLength="42.8" lengthAdjust="spacingAndGlyphs" transform="rotate(-90 344.6 301.2)">(FC to vehicle)</text>
<rect x="369.1" y="323.5" width="8.5" height="5.8" fill="#4a5366"/>
<line x1="373.35" y1="321.8" x2="373.35" y2="326.6" stroke="#111" stroke-width="0.8"/>
<line x1="371.75" y1="321.8" x2="374.95" y2="321.8" stroke="#111" stroke-width="0.8"/>
<line x1="371.75" y1="326.6" x2="374.95" y2="326.6" stroke="#111" stroke-width="0.8"/>
<circle cx="371.75" cy="325.5" r="1.2" fill="none" stroke="#111" stroke-width="0.7"/>
<circle cx="374.95" cy="325.5" r="1.2" fill="none" stroke="#111" stroke-width="0.7"/>
<circle cx="373.35" cy="320.8" r="1.2" fill="none" stroke="#111" stroke-width="0.7"/>
<circle cx="371.55" cy="328" r="1.15" fill="#111" stroke="none" stroke-width="0.6"/>
<circle cx="375.15" cy="328" r="1.2" fill="none" stroke="#111" stroke-width="0.7"/>
<circle cx="373.35" cy="323.5" r="1.15" fill="#111" stroke="none" stroke-width="0.6"/>
<rect x="379.6" y="323.1" width="9.3" height="6.2" fill="#a9092d"/>
<line x1="384.25" y1="321.5" x2="384.25" y2="326" stroke="#111" stroke-width="0.8"/>
<line x1="382.65" y1="321.5" x2="385.85" y2="321.5" stroke="#111" stroke-width="0.8"/>
<line x1="382.65" y1="326" x2="385.85" y2="326" stroke="#111" stroke-width="0.8"/>
<circle cx="382.05" cy="325.8" r="1.2" fill="none" stroke="#111" stroke-width="0.7"/>
<circle cx="386.45" cy="325.8" r="1.2" fill="none" stroke="#111" stroke-width="0.7"/>
<circle cx="384.25" cy="321.2" r="1.2" fill="none" stroke="#111" stroke-width="0.7"/>
<circle cx="383.25" cy="327.8" r="1.15" fill="#111" stroke="none" stroke-width="0.6"/>
<circle cx="386.05" cy="323.6" r="1.15" fill="#111" stroke="none" stroke-width="0.6"/>
<rect x="390.7" y="318.8" width="9.1" height="10.5" fill="#6bb3e6"/>
<line x1="395.25" y1="316.5" x2="395.25" y2="324" stroke="#111" stroke-width="0.8"/>
<line x1="393.65" y1="316.5" x2="396.85" y2="316.5" stroke="#111" stroke-width="0.8"/>
<line x1="393.65" y1="324" x2="396.85" y2="324" stroke="#111" stroke-width="0.8"/>
<circle cx="393.25" cy="316" r="1.2" fill="none" stroke="#111" stroke-width="0.7"/>
<circle cx="397.25" cy="317.2" r="1.2" fill="none" stroke="#111" stroke-width="0.7"/>
<circle cx="395.25" cy="320.5" r="1.15" fill="#111" stroke="none" stroke-width="0.6"/>
<circle cx="393.65" cy="322.8" r="1.2" fill="none" stroke="#111" stroke-width="0.7"/>
<circle cx="396.85" cy="324.4" r="1.2" fill="none" stroke="#111" stroke-width="0.7"/>
<circle cx="395.25" cy="326.2" r="1.2" fill="none" stroke="#111" stroke-width="0.7"/>
<rect x="401.4" y="307" width="9.5" height="22.3" fill="#5a2470"/>
<rect x="401.4" y="298" width="9.5" height="2" fill="#5a2470"/>
<line x1="406.15" y1="290.3" x2="406.15" y2="298" stroke="#111" stroke-width="0.8"/>
<line x1="404.5" y1="290.3" x2="407.8" y2="290.3" stroke="#111" stroke-width="0.8"/>
<line x1="406.15" y1="307" x2="406.15" y2="327.8" stroke="#111" stroke-width="0.8"/>
<line x1="404.5" y1="327.8" x2="407.8" y2="327.8" stroke="#111" stroke-width="0.8"/>
<path d="M406.15 292.9 L407.4 294.3 L406.15 295.7 L404.9 294.3 Z" stroke="none" fill="#111" stroke-width="1"/>
<circle cx="406.15" cy="284.5" r="1" fill="none" stroke="#111" stroke-width="0.6"/>
<circle cx="404.55" cy="314.5" r="1" fill="none" stroke="#222" stroke-width="0.6"/>
<circle cx="407.75" cy="314.5" r="1" fill="none" stroke="#222" stroke-width="0.6"/>
<circle cx="404.55" cy="318.5" r="1" fill="none" stroke="#222" stroke-width="0.6"/>
<circle cx="407.75" cy="318.5" r="1" fill="none" stroke="#222" stroke-width="0.6"/>
<line x1="373.2" y1="276.8" x2="406.1" y2="276.8" stroke="#1c1c1c" stroke-width="1.12"/>
<line x1="384.3" y1="279.1" x2="406.1" y2="279.1" stroke="#1c1c1c" stroke-width="1.12"/>
<line x1="396" y1="281.2" x2="406.1" y2="281.2" stroke="#1c1c1c" stroke-width="1.12"/>
<circle cx="370.7" cy="280" r="0.78" fill="#222" stroke="none" stroke-width="0.6"/>
<circle cx="372.7" cy="280" r="0.78" fill="#222" stroke="none" stroke-width="0.6"/>
<circle cx="374.7" cy="280" r="0.78" fill="#222" stroke="none" stroke-width="0.6"/>
<circle cx="384.4" cy="282.5" r="0.78" fill="#222" stroke="none" stroke-width="0.6"/>
<circle cx="397.4" cy="282.5" r="0.78" fill="#222" stroke="none" stroke-width="0.6"/>
<line x1="459.4" y1="274.2" x2="459.4" y2="329.4" stroke="#151515" stroke-width="1"/>
<line x1="456.8" y1="277" x2="459.4" y2="277" stroke="#151515" stroke-width="0.9"/>
<line x1="456.8" y1="290.2" x2="459.4" y2="290.2" stroke="#151515" stroke-width="0.9"/>
<line x1="456.8" y1="303.3" x2="459.4" y2="303.3" stroke="#151515" stroke-width="0.9"/>
<line x1="456.8" y1="316.3" x2="459.4" y2="316.3" stroke="#151515" stroke-width="0.9"/>
<line x1="456.8" y1="329.2" x2="459.4" y2="329.2" stroke="#151515" stroke-width="0.9"/>
<text x="453.6" y="279.24" font-size="6.4" text-anchor="end" fill="#1e1e1e">8</text>
<text x="453.6" y="292.44" font-size="6.4" text-anchor="end" fill="#1e1e1e">6</text>
<text x="453.6" y="305.54" font-size="6.4" text-anchor="end" fill="#1e1e1e">4</text>
<text x="453.6" y="318.54" font-size="6.4" text-anchor="end" fill="#1e1e1e">2</text>
<text x="453.6" y="331.44" font-size="6.4" text-anchor="end" fill="#1e1e1e">0</text>
<line x1="457" y1="329.3" x2="512" y2="329.3" stroke="#151515" stroke-width="1.1"/>
<text x="433.6" y="303" font-size="7.3" text-anchor="middle" fill="#1e1e1e" textLength="17" lengthAdjust="spacingAndGlyphs" transform="rotate(-90 433.6 303)">p-p65</text>
<text x="443.4" y="303" font-size="7.3" text-anchor="middle" fill="#1e1e1e" textLength="43" lengthAdjust="spacingAndGlyphs" transform="rotate(-90 443.4 303)">(FC to vehicle)</text>
<rect x="464.2" y="325.8" width="10" height="3.5" fill="#4a5366"/>
<circle cx="467" cy="326.5" r="1.15" fill="#111" stroke="none" stroke-width="0.6"/>
<circle cx="469.2" cy="325.2" r="1.15" fill="#111" stroke="none" stroke-width="0.6"/>
<circle cx="471.4" cy="326.5" r="1.15" fill="#111" stroke="none" stroke-width="0.6"/>
<circle cx="468.2" cy="328" r="1.2" fill="none" stroke="#111" stroke-width="0.7"/>
<circle cx="470.6" cy="327.8" r="1.2" fill="none" stroke="#111" stroke-width="0.7"/>
<circle cx="469.2" cy="322.5" r="1.15" fill="#111" stroke="none" stroke-width="0.6"/>
<rect x="475.8" y="317.1" width="9" height="12.2" fill="#a9092d"/>
<line x1="480.3" y1="313" x2="480.3" y2="321.5" stroke="#111" stroke-width="0.8"/>
<line x1="478.7" y1="313" x2="481.9" y2="313" stroke="#111" stroke-width="0.8"/>
<line x1="478.7" y1="321.5" x2="481.9" y2="321.5" stroke="#111" stroke-width="0.8"/>
<circle cx="478.5" cy="313.5" r="1.2" fill="none" stroke="#111" stroke-width="0.7"/>
<circle cx="481.9" cy="312.8" r="1.2" fill="none" stroke="#111" stroke-width="0.7"/>
<circle cx="480.3" cy="315.6" r="1.15" fill="#111" stroke="none" stroke-width="0.6"/>
<circle cx="478.7" cy="318" r="1.2" fill="none" stroke="#111" stroke-width="0.7"/>
<circle cx="481.8" cy="320" r="1.2" fill="none" stroke="#111" stroke-width="0.7"/>
<circle cx="480.3" cy="325.5" r="1.2" fill="none" stroke="#111" stroke-width="0.7"/>
<rect x="486.3" y="314.2" width="9.7" height="15.1" fill="#6bb3e6"/>
<line x1="491.15" y1="297.5" x2="491.15" y2="329" stroke="#111" stroke-width="0.8"/>
<line x1="489.55" y1="297.5" x2="492.75" y2="297.5" stroke="#111" stroke-width="0.8"/>
<line x1="489.55" y1="329" x2="492.75" y2="329" stroke="#111" stroke-width="0.8"/>
<circle cx="491.15" cy="318.5" r="1.2" fill="none" stroke="#111" stroke-width="0.7"/>
<circle cx="491.15" cy="321.3" r="1.2" fill="none" stroke="#111" stroke-width="0.7"/>
<circle cx="491.15" cy="324" r="1.2" fill="none" stroke="#111" stroke-width="0.7"/>
<circle cx="491.15" cy="327" r="1.2" fill="none" stroke="#111" stroke-width="0.7"/>
<path d="M491.15 301.4 L492.35 302.7 L491.15 304 L489.95 302.7 Z" stroke="none" fill="#111" stroke-width="1"/>
<circle cx="491.15" cy="287" r="1" fill="none" stroke="#111" stroke-width="0.6"/>
<rect x="497.3" y="325.4" width="9.6" height="3.9" fill="#5a2470"/>
<circle cx="499.5" cy="323.5" r="1.2" fill="none" stroke="#111" stroke-width="0.7"/>
<circle cx="502.1" cy="323" r="1.15" fill="#111" stroke="none" stroke-width="0.6"/>
<circle cx="504.7" cy="323.5" r="1.2" fill="none" stroke="#111" stroke-width="0.7"/>
<circle cx="501.1" cy="327" r="1.15" fill="#111" stroke="none" stroke-width="0.6"/>
<circle cx="503.7" cy="326.6" r="1.2" fill="none" stroke="#111" stroke-width="0.7"/>
<line x1="364.2" y1="342.9" x2="364.2" y2="397.4" stroke="#151515" stroke-width="1"/>
<line x1="361.6" y1="344.8" x2="364.2" y2="344.8" stroke="#151515" stroke-width="0.9"/>
<line x1="361.6" y1="362.5" x2="364.2" y2="362.5" stroke="#151515" stroke-width="0.9"/>
<line x1="361.6" y1="380" x2="364.2" y2="380" stroke="#151515" stroke-width="0.9"/>
<line x1="361.6" y1="397.3" x2="364.2" y2="397.3" stroke="#151515" stroke-width="0.9"/>
<text x="359.6" y="347" font-size="6.2" text-anchor="end" fill="#1e1e1e">6</text>
<text x="359.6" y="364.7" font-size="6.2" text-anchor="end" fill="#1e1e1e">4</text>
<text x="359.6" y="382.2" font-size="6.2" text-anchor="end" fill="#1e1e1e">2</text>
<text x="359.6" y="399.5" font-size="6.2" text-anchor="end" fill="#1e1e1e">0</text>
<line x1="362" y1="397.3" x2="415.6" y2="397.3" stroke="#151515" stroke-width="1.1"/>
<text x="339.6" y="369.8" font-size="7.3" text-anchor="middle" fill="#1e1e1e" textLength="22" lengthAdjust="spacingAndGlyphs" transform="rotate(-90 339.6 369.8)">p-IκB/IκB</text>
<text x="348.6" y="369.8" font-size="7.3" text-anchor="middle" fill="#1e1e1e" textLength="43" lengthAdjust="spacingAndGlyphs" transform="rotate(-90 348.6 369.8)">(FC to vehicle)</text>
<rect x="369" y="389" width="9" height="8.3" fill="#4a5366"/>
<line x1="373.5" y1="385" x2="373.5" y2="393.5" stroke="#111" stroke-width="0.8"/>
<line x1="371.9" y1="385" x2="375.1" y2="385" stroke="#111" stroke-width="0.8"/>
<line x1="371.9" y1="393.5" x2="375.1" y2="393.5" stroke="#111" stroke-width="0.8"/>
<circle cx="373.5" cy="383.5" r="1.2" fill="none" stroke="#111" stroke-width="0.7"/>
<circle cx="372" cy="388.5" r="1.15" fill="#111" stroke="none" stroke-width="0.6"/>
<circle cx="375" cy="390.5" r="1.2" fill="none" stroke="#111" stroke-width="0.7"/>
<circle cx="373.5" cy="393.5" r="1.15" fill="#111" stroke="none" stroke-width="0.6"/>
<circle cx="372.5" cy="396" r="1.2" fill="none" stroke="#111" stroke-width="0.7"/>
<rect x="379.6" y="381.9" width="9.4" height="15.4" fill="#a9092d"/>
<line x1="384.3" y1="374.5" x2="384.3" y2="389.5" stroke="#111" stroke-width="0.8"/>
<line x1="382.7" y1="374.5" x2="385.9" y2="374.5" stroke="#111" stroke-width="0.8"/>
<line x1="382.7" y1="389.5" x2="385.9" y2="389.5" stroke="#111" stroke-width="0.8"/>
<circle cx="384.3" cy="375.5" r="1.2" fill="none" stroke="#111" stroke-width="0.7"/>
<circle cx="385.5" cy="378.5" r="1.15" fill="#111" stroke="none" stroke-width="0.6"/>
<circle cx="383.1" cy="383.6" r="1.15" fill="#111" stroke="none" stroke-width="0.6"/>
<circle cx="385.9" cy="386.8" r="1.2" fill="none" stroke="#111" stroke-width="0.7"/>
<circle cx="383.3" cy="389.5" r="1.15" fill="#111" stroke="none" stroke-width="0.6"/>
<rect x="390.6" y="372.3" width="9.2" height="25" fill="#6bb3e6"/>
<line x1="395.2" y1="368.5" x2="395.2" y2="376.5" stroke="#111" stroke-width="0.8"/>
<line x1="393.6" y1="368.5" x2="396.8" y2="368.5" stroke="#111" stroke-width="0.8"/>
<line x1="393.6" y1="376.5" x2="396.8" y2="376.5" stroke="#111" stroke-width="0.8"/>
<circle cx="395.2" cy="366.8" r="1.2" fill="none" stroke="#111" stroke-width="0.7"/>
<circle cx="393.7" cy="370.8" r="1.15" fill="#111" stroke="none" stroke-width="0.6"/>
<circle cx="396.7" cy="372.5" r="1.2" fill="none" stroke="#111" stroke-width="0.7"/>
<circle cx="395.2" cy="375.5" r="1.15" fill="#111" stroke="none" stroke-width="0.6"/>
<circle cx="394" cy="378" r="1.2" fill="none" stroke="#111" stroke-width="0.7"/>
<circle cx="396.2" cy="378.5" r="1.2" fill="none" stroke="#111" stroke-width="0.7"/>
<rect x="401.5" y="374.2" width="9.3" height="23.1" fill="#5a2470"/>
<line x1="406.15" y1="361.5" x2="406.15" y2="387" stroke="#111" stroke-width="0.8"/>
<line x1="404.55" y1="361.5" x2="407.75" y2="361.5" stroke="#111" stroke-width="0.8"/>
<line x1="404.55" y1="387" x2="407.75" y2="387" stroke="#111" stroke-width="0.8"/>
<circle cx="402.95" cy="374.5" r="1.15" fill="#111" stroke="none" stroke-width="0.6"/>
<circle cx="409.35" cy="374.5" r="1.15" fill="#111" stroke="none" stroke-width="0.6"/>
<circle cx="406.15" cy="374" r="1.15" fill="#111" stroke="none" stroke-width="0.6"/>
<circle cx="406.15" cy="379.5" r="1.15" fill="#111" stroke="none" stroke-width="0.6"/>
<circle cx="406.15" cy="384" r="1.2" fill="none" stroke="#111" stroke-width="0.7"/>
<circle cx="406.15" cy="352" r="1" fill="none" stroke="#111" stroke-width="0.6"/>
<line x1="372.3" y1="346.7" x2="406.5" y2="346.7" stroke="#1c1c1c" stroke-width="1.12"/>
<line x1="372.3" y1="352.5" x2="395.8" y2="352.5" stroke="#1c1c1c" stroke-width="1.12"/>
<circle cx="372.9" cy="349" r="0.78" fill="#222" stroke="none" stroke-width="0.6"/>
<circle cx="373.4" cy="356.3" r="0.78" fill="#222" stroke="none" stroke-width="0.6"/>
<circle cx="375.4" cy="356.3" r="0.78" fill="#222" stroke="none" stroke-width="0.6"/>
<line x1="459.4" y1="342.9" x2="459.4" y2="397.4" stroke="#151515" stroke-width="1"/>
<line x1="456.8" y1="345.2" x2="459.4" y2="345.2" stroke="#151515" stroke-width="0.9"/>
<line x1="456.8" y1="362.7" x2="459.4" y2="362.7" stroke="#151515" stroke-width="0.9"/>
<line x1="456.8" y1="380" x2="459.4" y2="380" stroke="#151515" stroke-width="0.9"/>
<line x1="456.8" y1="397.3" x2="459.4" y2="397.3" stroke="#151515" stroke-width="0.9"/>
<text x="454.4" y="347.4" font-size="6.2" text-anchor="end" fill="#1e1e1e">1.5</text>
<text x="454.4" y="364.9" font-size="6.2" text-anchor="end" fill="#1e1e1e">1.0</text>
<text x="454.4" y="382.2" font-size="6.2" text-anchor="end" fill="#1e1e1e">0.5</text>
<text x="454.4" y="399.5" font-size="6.2" text-anchor="end" fill="#1e1e1e">0.0</text>
<line x1="457" y1="397.3" x2="512" y2="397.3" stroke="#151515" stroke-width="1.1"/>
<text x="429.8" y="369.8" font-size="7.3" text-anchor="middle" fill="#1e1e1e" textLength="8" lengthAdjust="spacingAndGlyphs" transform="rotate(-90 429.8 369.8)">IκB</text>
<text x="438.8" y="369.8" font-size="7.3" text-anchor="middle" fill="#1e1e1e" textLength="43" lengthAdjust="spacingAndGlyphs" transform="rotate(-90 438.8 369.8)">(FC to vehicle)</text>
<rect x="464.8" y="362.7" width="9.4" height="34.6" fill="#4a5366"/>
<line x1="469.5" y1="352" x2="469.5" y2="373.5" stroke="#111" stroke-width="0.8"/>
<line x1="467.9" y1="352" x2="471.1" y2="352" stroke="#111" stroke-width="0.8"/>
<line x1="467.9" y1="373.5" x2="471.1" y2="373.5" stroke="#111" stroke-width="0.8"/>
<circle cx="469.5" cy="349.5" r="1.2" fill="none" stroke="#111" stroke-width="0.7"/>
<circle cx="467.9" cy="355" r="1.2" fill="none" stroke="#111" stroke-width="0.7"/>
<circle cx="471.1" cy="356" r="1.2" fill="none" stroke="#111" stroke-width="0.7"/>
<circle cx="469.5" cy="357.5" r="1.15" fill="#111" stroke="none" stroke-width="0.6"/>
<circle cx="469.5" cy="365" r="1.15" fill="#111" stroke="none" stroke-width="0.6"/>
<circle cx="468.3" cy="372.5" r="1.2" fill="none" stroke="#111" stroke-width="0.7"/>
<circle cx="470.7" cy="374" r="1.2" fill="none" stroke="#111" stroke-width="0.7"/>
<rect x="475.8" y="365" width="9.2" height="32.3" fill="#a9092d"/>
<line x1="480.4" y1="356" x2="480.4" y2="374" stroke="#111" stroke-width="0.8"/>
<line x1="478.8" y1="356" x2="482" y2="356" stroke="#111" stroke-width="0.8"/>
<line x1="478.8" y1="374" x2="482" y2="374" stroke="#111" stroke-width="0.8"/>
<circle cx="479" cy="353.5" r="1.2" fill="none" stroke="#111" stroke-width="0.7"/>
<circle cx="481.8" cy="353.5" r="1.2" fill="none" stroke="#111" stroke-width="0.7"/>
<circle cx="480.4" cy="357.5" r="1.15" fill="#111" stroke="none" stroke-width="0.6"/>
<circle cx="481.6" cy="368" r="1.15" fill="#111" stroke="none" stroke-width="0.6"/>
<circle cx="479.4" cy="372" r="1.2" fill="none" stroke="#111" stroke-width="0.7"/>
<circle cx="480.4" cy="375.5" r="1.2" fill="none" stroke="#111" stroke-width="0.7"/>
<circle cx="481.9" cy="371.5" r="1.15" fill="#111" stroke="none" stroke-width="0.6"/>
<rect x="486.7" y="377" width="9.3" height="20.3" fill="#6bb3e6"/>
<line x1="491.35" y1="365" x2="491.35" y2="388" stroke="#111" stroke-width="0.8"/>
<line x1="489.75" y1="365" x2="492.95" y2="365" stroke="#111" stroke-width="0.8"/>
<line x1="489.75" y1="388" x2="492.95" y2="388" stroke="#111" stroke-width="0.8"/>
<circle cx="491.35" cy="359.5" r="1.2" fill="none" stroke="#111" stroke-width="0.7"/>
<circle cx="491.35" cy="369.5" r="1.15" fill="#111" stroke="none" stroke-width="0.6"/>
<circle cx="492.75" cy="373" r="1.15" fill="#111" stroke="none" stroke-width="0.6"/>
<circle cx="490.15" cy="382.5" r="1.2" fill="none" stroke="#111" stroke-width="0.7"/>
<circle cx="491.35" cy="385.8" r="1.15" fill="#111" stroke="none" stroke-width="0.6"/>
<circle cx="491.35" cy="391" r="1.2" fill="none" stroke="#111" stroke-width="0.7"/>
<rect x="497.5" y="376.2" width="9.6" height="21.1" fill="#5a2470"/>
<line x1="502.3" y1="363" x2="502.3" y2="390" stroke="#111" stroke-width="0.8"/>
<line x1="500.7" y1="363" x2="503.9" y2="363" stroke="#111" stroke-width="0.8"/>
<line x1="500.7" y1="390" x2="503.9" y2="390" stroke="#111" stroke-width="0.8"/>
<circle cx="500.8" cy="361" r="1.2" fill="none" stroke="#111" stroke-width="0.7"/>
<circle cx="503.8" cy="361" r="1.2" fill="none" stroke="#111" stroke-width="0.7"/>
<circle cx="502.3" cy="370.5" r="1.15" fill="#111" stroke="none" stroke-width="0.6"/>
<circle cx="502.3" cy="379" r="1.15" fill="#111" stroke="none" stroke-width="0.6"/>
<circle cx="500.9" cy="385" r="1.2" fill="none" stroke="#111" stroke-width="0.7"/>
<circle cx="503.7" cy="389" r="1.2" fill="none" stroke="#111" stroke-width="0.7"/>
<circle cx="502.3" cy="391" r="1.2" fill="none" stroke="#111" stroke-width="0.7"/>
<text x="318.6" y="449.4" font-size="12.2" font-weight="bold" fill="#0a0a0a">K</text>
<line x1="357.6" y1="452.6" x2="357.6" y2="507.5" stroke="#151515" stroke-width="1"/>
<line x1="355.2" y1="454.2" x2="357.6" y2="454.2" stroke="#151515" stroke-width="0.8"/>
<text x="352.6" y="456.2" font-size="5.9" text-anchor="end" fill="#333">4</text>
<line x1="355.2" y1="465.3" x2="357.6" y2="465.3" stroke="#151515" stroke-width="0.8"/>
<text x="352.6" y="467.3" font-size="5.9" text-anchor="end" fill="#333">3</text>
<line x1="355.2" y1="475.7" x2="357.6" y2="475.7" stroke="#151515" stroke-width="0.8"/>
<text x="352.6" y="477.7" font-size="5.9" text-anchor="end" fill="#333">2</text>
<line x1="355.2" y1="486" x2="357.6" y2="486" stroke="#151515" stroke-width="0.8"/>
<text x="352.6" y="488" font-size="5.9" text-anchor="end" fill="#333">1</text>
<line x1="355.2" y1="497" x2="357.6" y2="497" stroke="#151515" stroke-width="0.8"/>
<text x="352.6" y="499" font-size="5.9" text-anchor="end" fill="#333">0</text>
<line x1="355.2" y1="507.3" x2="357.6" y2="507.3" stroke="#151515" stroke-width="0.8"/>
<text x="352.6" y="509.3" font-size="5.9" text-anchor="end" fill="#333">-1</text>
<line x1="357.6" y1="507.3" x2="410" y2="507.3" stroke="#151515" stroke-width="1.1"/>
<text x="333.4" y="479.6" font-size="7.3" text-anchor="middle" fill="#1e1e1e" textLength="23.5" lengthAdjust="spacingAndGlyphs" transform="rotate(-90 333.4 479.6)">p-S6/S6</text>
<text x="342" y="479.6" font-size="7.3" text-anchor="middle" fill="#1e1e1e" textLength="27.5" lengthAdjust="spacingAndGlyphs" transform="rotate(-90 342 479.6)">(log2 FC)</text>
<rect x="374.2" y="476.8" width="9.8" height="20.2" fill="#a9092d"/>
<line x1="379.1" y1="474.5" x2="379.1" y2="482" stroke="#111" stroke-width="0.8"/>
<line x1="377.5" y1="474.5" x2="380.7" y2="474.5" stroke="#111" stroke-width="0.8"/>
<line x1="377.5" y1="482" x2="380.7" y2="482" stroke="#111" stroke-width="0.8"/>
<circle cx="379.1" cy="473" r="1.2" fill="none" stroke="#111" stroke-width="0.7"/>
<circle cx="379.1" cy="478" r="1.15" fill="#111" stroke="none" stroke-width="0.6"/>
<circle cx="379.1" cy="484.5" r="1.2" fill="none" stroke="#111" stroke-width="0.7"/>
<rect x="385" y="471.5" width="9.5" height="25.5" fill="#6bb3e6"/>
<line x1="389.75" y1="465" x2="389.75" y2="478.5" stroke="#111" stroke-width="0.8"/>
<line x1="388.15" y1="465" x2="391.35" y2="465" stroke="#111" stroke-width="0.8"/>
<line x1="388.15" y1="478.5" x2="391.35" y2="478.5" stroke="#111" stroke-width="0.8"/>
<circle cx="389.75" cy="458.5" r="1.2" fill="none" stroke="#111" stroke-width="0.7"/>
<circle cx="388.75" cy="462.5" r="1.2" fill="none" stroke="#111" stroke-width="0.7"/>
<circle cx="389.75" cy="474" r="1.15" fill="#111" stroke="none" stroke-width="0.6"/>
<circle cx="389.75" cy="481" r="1.2" fill="none" stroke="#111" stroke-width="0.7"/>
<rect x="396.2" y="490.7" width="9.2" height="6.3" fill="#5a2470"/>
<line x1="400.8" y1="484.5" x2="400.8" y2="497" stroke="#111" stroke-width="0.8"/>
<line x1="399.2" y1="484.5" x2="402.4" y2="484.5" stroke="#111" stroke-width="0.8"/>
<line x1="399.2" y1="497" x2="402.4" y2="497" stroke="#111" stroke-width="0.8"/>
<circle cx="400.8" cy="479.5" r="1.2" fill="none" stroke="#111" stroke-width="0.7"/>
<circle cx="400.8" cy="494.5" r="1.15" fill="#111" stroke="none" stroke-width="0.6"/>
<circle cx="400.8" cy="504" r="1.2" fill="none" stroke="#111" stroke-width="0.7"/>
<line x1="357.6" y1="497" x2="410" y2="497" stroke="#151515" stroke-width="1"/>
<circle cx="365.5" cy="496.8" r="0.9" fill="none" stroke="#111" stroke-width="0.55"/>
<circle cx="368" cy="497.4" r="0.9" fill="#111" stroke="none" stroke-width="0.6"/>
<circle cx="370.5" cy="497" r="0.9" fill="none" stroke="#111" stroke-width="0.55"/>
<line x1="364.5" y1="460.7" x2="382.3" y2="460.7" stroke="#1c1c1c" stroke-width="1.12"/>
<line x1="364.5" y1="465.3" x2="373" y2="465.3" stroke="#1c1c1c" stroke-width="1.12"/>
<circle cx="376.3" cy="466" r="0.78" fill="#222" stroke="none" stroke-width="0.6"/>
<line x1="357.6" y1="521.2" x2="357.6" y2="575.7" stroke="#151515" stroke-width="1"/>
<line x1="355.2" y1="523" x2="357.6" y2="523" stroke="#151515" stroke-width="0.8"/>
<text x="352.6" y="525" font-size="6.5" text-anchor="end" fill="#333">1.5</text>
<line x1="355.2" y1="536.2" x2="357.6" y2="536.2" stroke="#151515" stroke-width="0.8"/>
<text x="352.6" y="538.2" font-size="6.5" text-anchor="end" fill="#333">1.0</text>
<line x1="355.2" y1="549.2" x2="357.6" y2="549.2" stroke="#151515" stroke-width="0.8"/>
<text x="352.6" y="551.2" font-size="6.5" text-anchor="end" fill="#333">0.5</text>
<line x1="355.2" y1="562.3" x2="357.6" y2="562.3" stroke="#151515" stroke-width="0.8"/>
<text x="352.6" y="564.3" font-size="6.5" text-anchor="end" fill="#333">0.0</text>
<line x1="355.2" y1="575.5" x2="357.6" y2="575.5" stroke="#151515" stroke-width="0.8"/>
<text x="352.6" y="577.5" font-size="6.5" text-anchor="end" fill="#333">-0.5</text>
<line x1="357.6" y1="575.5" x2="410" y2="575.5" stroke="#151515" stroke-width="1.1"/>
<text x="324.8" y="548.5" font-size="7.3" text-anchor="middle" fill="#1e1e1e" textLength="26" lengthAdjust="spacingAndGlyphs" transform="rotate(-90 324.8 548.5)">BCL10 FL</text>
<text x="334.6" y="548.5" font-size="7.3" text-anchor="middle" fill="#1e1e1e" textLength="27" lengthAdjust="spacingAndGlyphs" transform="rotate(-90 334.6 548.5)">(log2 FC)</text>
<rect x="374.2" y="542.2" width="9.8" height="20.1" fill="#a9092d"/>
<line x1="379.1" y1="536.5" x2="379.1" y2="548.5" stroke="#111" stroke-width="0.8"/>
<line x1="377.5" y1="536.5" x2="380.7" y2="536.5" stroke="#111" stroke-width="0.8"/>
<line x1="377.5" y1="548.5" x2="380.7" y2="548.5" stroke="#111" stroke-width="0.8"/>
<circle cx="379.1" cy="535" r="1.2" fill="none" stroke="#111" stroke-width="0.7"/>
<circle cx="379.1" cy="540.5" r="1.15" fill="#111" stroke="none" stroke-width="0.6"/>
<circle cx="379.1" cy="546.5" r="1.2" fill="none" stroke="#111" stroke-width="0.7"/>
<circle cx="379.1" cy="550.5" r="1.15" fill="#111" stroke="none" stroke-width="0.6"/>
<rect x="385" y="546.2" width="9.5" height="16.1" fill="#6bb3e6"/>
<line x1="389.75" y1="540.5" x2="389.75" y2="552" stroke="#111" stroke-width="0.8"/>
<line x1="388.15" y1="540.5" x2="391.35" y2="540.5" stroke="#111" stroke-width="0.8"/>
<line x1="388.15" y1="552" x2="391.35" y2="552" stroke="#111" stroke-width="0.8"/>
<circle cx="389.75" cy="537" r="1.2" fill="none" stroke="#111" stroke-width="0.7"/>
<circle cx="389.25" cy="541" r="1.15" fill="#111" stroke="none" stroke-width="0.6"/>
<circle cx="389.75" cy="556.5" r="1.2" fill="none" stroke="#111" stroke-width="0.7"/>
<rect x="396.2" y="542.2" width="9.2" height="20.1" fill="#5a2470"/>
<circle cx="399.4" cy="541.8" r="1.2" fill="none" stroke="#111" stroke-width="0.7"/>
<circle cx="402.2" cy="541.8" r="1.2" fill="none" stroke="#111" stroke-width="0.7"/>
<circle cx="400.8" cy="540" r="1.2" fill="none" stroke="#111" stroke-width="0.7"/>
<circle cx="400.8" cy="543" r="1.15" fill="#111" stroke="none" stroke-width="0.6"/>
<line x1="357.6" y1="562.3" x2="410" y2="562.3" stroke="#151515" stroke-width="1"/>
<line x1="368" y1="559" x2="368" y2="567.5" stroke="#111" stroke-width="0.8"/>
<line x1="366.4" y1="567.5" x2="369.6" y2="567.5" stroke="#111" stroke-width="0.8"/>
<circle cx="368" cy="555.5" r="0.9" fill="none" stroke="#111" stroke-width="0.55"/>
<circle cx="368" cy="558.5" r="0.9" fill="none" stroke="#111" stroke-width="0.55"/>
<circle cx="368" cy="563" r="0.9" fill="#111" stroke="none" stroke-width="0.55"/>
<circle cx="368" cy="565.5" r="0.9" fill="none" stroke="#111" stroke-width="0.55"/>
<circle cx="368" cy="568.5" r="0.9" fill="none" stroke="#111" stroke-width="0.55"/>
<line x1="365.5" y1="527.2" x2="396.2" y2="527.2" stroke="#1c1c1c" stroke-width="1.12"/>
<line x1="365.5" y1="530" x2="387" y2="530" stroke="#1c1c1c" stroke-width="1.12"/>
<line x1="365.5" y1="533" x2="376.5" y2="533" stroke="#1c1c1c" stroke-width="1.12"/>
<circle cx="399.7" cy="527.8" r="0.78" fill="#222" stroke="none" stroke-width="0.6"/>
<circle cx="389.3" cy="530.6" r="0.78" fill="#222" stroke="none" stroke-width="0.6"/>
<circle cx="378.9" cy="533.4" r="0.78" fill="#222" stroke="none" stroke-width="0.6"/>
<line x1="456.2" y1="520.2" x2="456.2" y2="575.2" stroke="#151515" stroke-width="1"/>
<line x1="453.8" y1="523.5" x2="456.2" y2="523.5" stroke="#151515" stroke-width="0.8"/>
<text x="450.2" y="525.5" font-size="6.5" text-anchor="end" fill="#333">0.5</text>
<line x1="453.8" y1="533.7" x2="456.2" y2="533.7" stroke="#151515" stroke-width="0.8"/>
<text x="450.2" y="535.7" font-size="6.5" text-anchor="end" fill="#333">0.0</text>
<line x1="453.8" y1="544.2" x2="456.2" y2="544.2" stroke="#151515" stroke-width="0.8"/>
<text x="450.2" y="546.2" font-size="6.5" text-anchor="end" fill="#333">-0.5</text>
<line x1="453.8" y1="554.8" x2="456.2" y2="554.8" stroke="#151515" stroke-width="0.8"/>
<text x="450.2" y="556.8" font-size="6.5" text-anchor="end" fill="#333">-1.0</text>
<line x1="453.8" y1="565" x2="456.2" y2="565" stroke="#151515" stroke-width="0.8"/>
<text x="450.2" y="567" font-size="6.5" text-anchor="end" fill="#333">-1.5</text>
<line x1="453.8" y1="575" x2="456.2" y2="575" stroke="#151515" stroke-width="0.8"/>
<text x="450.2" y="577" font-size="6.5" text-anchor="end" fill="#333">-2.0</text>
<line x1="456.2" y1="575" x2="508" y2="575" stroke="#151515" stroke-width="1.1"/>
<text x="423.4" y="547.2" font-size="7.8" text-anchor="middle" fill="#1e1e1e" textLength="43" lengthAdjust="spacingAndGlyphs" transform="rotate(-90 423.4 547.2)">Roquin p50/FL</text>
<text x="433" y="547.2" font-size="7.8" text-anchor="middle" fill="#1e1e1e" textLength="26.6" lengthAdjust="spacingAndGlyphs" transform="rotate(-90 433 547.2)">(log2 FC)</text>
<rect x="471.9" y="533.7" width="9.6" height="28.8" fill="#a9092d"/>
<rect x="483" y="533.7" width="9.5" height="28.3" fill="#6bb3e6"/>
<rect x="494" y="533.7" width="9" height="21.5" fill="#5a2470"/>
<line x1="456.2" y1="533.7" x2="508.5" y2="533.7" stroke="#151515" stroke-width="1"/>
<line x1="465.8" y1="529.8" x2="465.8" y2="537.5" stroke="#111" stroke-width="0.8"/>
<line x1="464.2" y1="529.8" x2="467.4" y2="529.8" stroke="#111" stroke-width="0.8"/>
<line x1="464.2" y1="537.5" x2="467.4" y2="537.5" stroke="#111" stroke-width="0.8"/>
<circle cx="465.8" cy="524.6" r="0.95" fill="none" stroke="#111" stroke-width="0.55"/>
<circle cx="464.4" cy="539.4" r="0.95" fill="#111" stroke="none" stroke-width="0.55"/>
<circle cx="467.2" cy="539.4" r="0.95" fill="none" stroke="#111" stroke-width="0.55"/>
<line x1="476.7" y1="559" x2="476.7" y2="566" stroke="#111" stroke-width="0.8"/>
<line x1="475.1" y1="559" x2="478.3" y2="559" stroke="#111" stroke-width="0.8"/>
<line x1="475.1" y1="566" x2="478.3" y2="566" stroke="#111" stroke-width="0.8"/>
<circle cx="476.7" cy="556" r="0.95" fill="none" stroke="#111" stroke-width="0.55"/>
<circle cx="475.3" cy="565.5" r="0.95" fill="#111" stroke="none" stroke-width="0.55"/>
<circle cx="478.1" cy="565.5" r="0.95" fill="none" stroke="#111" stroke-width="0.55"/>
<line x1="487.75" y1="558" x2="487.75" y2="567" stroke="#111" stroke-width="0.8"/>
<line x1="486.15" y1="558" x2="489.35" y2="558" stroke="#111" stroke-width="0.8"/>
<line x1="486.15" y1="567" x2="489.35" y2="567" stroke="#111" stroke-width="0.8"/>
<circle cx="487.75" cy="558.5" r="0.95" fill="none" stroke="#111" stroke-width="0.55"/>
<circle cx="487.75" cy="561.5" r="0.95" fill="#111" stroke="none" stroke-width="0.55"/>
<circle cx="487.75" cy="566.5" r="0.95" fill="none" stroke="#111" stroke-width="0.55"/>
<line x1="498.5" y1="554" x2="498.5" y2="559.5" stroke="#111" stroke-width="0.8"/>
<line x1="496.9" y1="554" x2="500.1" y2="554" stroke="#111" stroke-width="0.8"/>
<line x1="496.9" y1="559.5" x2="500.1" y2="559.5" stroke="#111" stroke-width="0.8"/>
<circle cx="498.5" cy="550.5" r="0.95" fill="none" stroke="#111" stroke-width="0.55"/>
<circle cx="498.5" cy="553.5" r="0.95" fill="#111" stroke="none" stroke-width="0.55"/>
<circle cx="498.5" cy="558.5" r="0.95" fill="none" stroke="#111" stroke-width="0.55"/>
<line x1="463.3" y1="568.3" x2="494" y2="568.3" stroke="#1c1c1c" stroke-width="1.12"/>
<line x1="463.3" y1="570.8" x2="481.5" y2="570.8" stroke="#1c1c1c" stroke-width="1.12"/>
<line x1="463.3" y1="573.5" x2="469" y2="573.5" stroke="#1c1c1c" stroke-width="1.12"/>
<circle cx="497.7" cy="568.3" r="0.78" fill="#222" stroke="none" stroke-width="0.6"/>
<circle cx="499.7" cy="568.3" r="0.78" fill="#222" stroke="none" stroke-width="0.6"/>
<circle cx="483.9" cy="570.8" r="0.78" fill="#222" stroke="none" stroke-width="0.6"/>
<circle cx="485.9" cy="570.8" r="0.78" fill="#222" stroke="none" stroke-width="0.6"/>
<circle cx="487.9" cy="570.8" r="0.78" fill="#222" stroke="none" stroke-width="0.6"/>
<circle cx="471.4" cy="573.5" r="0.78" fill="#222" stroke="none" stroke-width="0.6"/>
<circle cx="473.4" cy="573.5" r="0.78" fill="#222" stroke="none" stroke-width="0.6"/>
<circle cx="475.4" cy="573.5" r="0.78" fill="#222" stroke="none" stroke-width="0.6"/>
<rect x="0.5" y="0.5" width="519" height="585" fill="none" stroke="#000" stroke-width="1.8"/>
</svg>
</body></html>
